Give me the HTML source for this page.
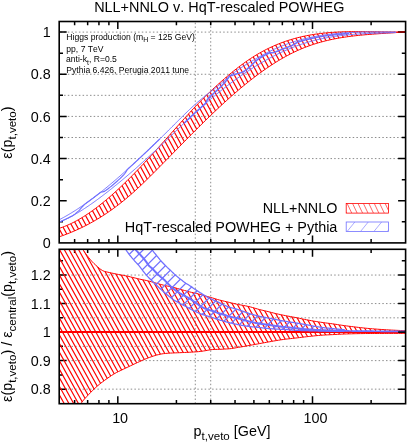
<!DOCTYPE html>
<html><head><meta charset="utf-8"><title>plot</title>
<style>html,body{margin:0;padding:0;background:#fff;overflow:hidden}body{width:407px;height:443px;position:relative;font-family:"Liberation Sans",sans-serif}</style>
</head><body>
<svg width="407" height="443" viewBox="0 0 407 443" style="position:absolute;left:0;top:0">
<defs>
<clipPath id="cu"><rect x="59.2" y="21.5" width="346.40000000000003" height="221.4"/></clipPath>
<clipPath id="cl"><rect x="59.2" y="249.3" width="346.40000000000003" height="154.39999999999998"/></clipPath>
<clipPath id="kru"><path d="M59.20,228.35 L60.94,227.76 L62.68,227.14 L64.42,226.47 L66.16,225.76 L67.91,225.01 L69.65,224.23 L71.39,223.41 L73.13,222.54 L74.87,221.65 L76.61,220.71 L78.35,219.74 L80.09,218.74 L81.84,217.70 L83.58,216.62 L85.32,215.52 L87.06,214.38 L88.80,213.21 L90.54,212.00 L92.28,210.77 L94.02,209.51 L95.77,208.22 L97.51,206.90 L99.25,205.55 L100.99,204.17 L102.73,202.77 L104.47,201.34 L106.21,199.88 L107.95,198.41 L109.69,196.90 L111.44,195.37 L113.18,193.82 L114.92,192.25 L116.66,190.65 L118.40,189.04 L120.14,187.40 L121.88,185.74 L123.62,184.07 L125.37,182.37 L127.11,180.66 L128.85,178.93 L130.59,177.18 L132.33,175.42 L134.07,173.64 L135.81,171.85 L137.55,170.04 L139.30,168.22 L141.04,166.39 L142.78,164.54 L144.52,162.68 L146.26,160.81 L148.00,158.93 L149.74,157.04 L151.48,155.14 L153.23,153.23 L154.97,151.32 L156.71,149.40 L158.45,147.47 L160.19,145.53 L161.93,143.60 L163.67,141.65 L165.41,139.71 L167.15,137.76 L168.90,135.81 L170.64,133.85 L172.38,131.90 L174.12,129.95 L175.86,128.00 L177.60,126.05 L179.34,124.10 L181.08,122.16 L182.83,120.22 L184.57,118.28 L186.31,116.36 L188.05,114.44 L189.79,112.53 L191.53,110.64 L193.27,108.76 L195.01,106.90 L196.76,105.07 L198.50,103.25 L200.24,101.46 L201.98,99.69 L203.72,97.95 L205.46,96.24 L207.20,94.54 L208.94,92.87 L210.68,91.22 L212.43,89.59 L214.17,87.97 L215.91,86.36 L217.65,84.77 L219.39,83.20 L221.13,81.64 L222.87,80.10 L224.61,78.57 L226.36,77.07 L228.10,75.59 L229.84,74.12 L231.58,72.68 L233.32,71.26 L235.06,69.86 L236.80,68.49 L238.54,67.14 L240.29,65.81 L242.03,64.52 L243.77,63.25 L245.51,62.00 L247.25,60.79 L248.99,59.61 L250.73,58.45 L252.47,57.33 L254.22,56.23 L255.96,55.17 L257.70,54.14 L259.44,53.13 L261.18,52.15 L262.92,51.21 L264.66,50.29 L266.40,49.39 L268.14,48.53 L269.89,47.69 L271.63,46.88 L273.37,46.10 L275.11,45.34 L276.85,44.60 L278.59,43.90 L280.33,43.21 L282.07,42.56 L283.82,41.92 L285.56,41.31 L287.30,40.73 L289.04,40.16 L290.78,39.62 L292.52,39.11 L294.26,38.61 L296.00,38.14 L297.75,37.68 L299.49,37.25 L301.23,36.84 L302.97,36.45 L304.71,36.08 L306.45,35.72 L308.19,35.39 L309.93,35.07 L311.67,34.77 L313.42,34.49 L315.16,34.22 L316.90,33.97 L318.64,33.74 L320.38,33.52 L322.12,33.32 L323.86,33.13 L325.60,32.95 L327.35,32.79 L329.09,32.64 L330.83,32.50 L332.57,32.38 L334.31,32.27 L336.05,32.16 L337.79,32.07 L339.53,31.99 L341.28,31.92 L343.02,31.85 L344.76,31.80 L346.50,31.76 L348.24,31.72 L349.98,31.69 L351.72,31.66 L353.46,31.65 L355.21,31.64 L356.95,31.63 L358.69,31.63 L360.43,31.64 L362.17,31.65 L363.91,31.66 L365.65,31.67 L367.39,31.69 L369.13,31.71 L370.88,31.74 L372.62,31.76 L374.36,31.79 L376.10,31.81 L377.84,31.84 L379.58,31.86 L381.32,31.89 L383.06,31.91 L384.81,31.93 L386.55,31.95 L388.29,31.97 L390.03,31.98 L391.77,31.99 L393.51,32.00 L395.25,32.00 L396.99,32.00 L398.74,31.99 L400.48,31.98 L402.22,31.95 L403.96,31.93 L405.70,31.89 L405.70,31.83 L403.96,31.98 L402.22,32.12 L400.48,32.25 L398.74,32.38 L396.99,32.51 L395.25,32.63 L393.51,32.75 L391.77,32.87 L390.03,32.98 L388.29,33.10 L386.55,33.21 L384.81,33.33 L383.06,33.44 L381.32,33.56 L379.58,33.67 L377.84,33.79 L376.10,33.91 L374.36,34.04 L372.62,34.17 L370.88,34.30 L369.13,34.43 L367.39,34.58 L365.65,34.72 L363.91,34.88 L362.17,35.04 L360.43,35.21 L358.69,35.38 L356.95,35.56 L355.21,35.76 L353.46,35.96 L351.72,36.17 L349.98,36.39 L348.24,36.62 L346.50,36.87 L344.76,37.12 L343.02,37.39 L341.28,37.67 L339.53,37.97 L337.79,38.28 L336.05,38.60 L334.31,38.94 L332.57,39.29 L330.83,39.66 L329.09,40.05 L327.35,40.45 L325.60,40.87 L323.86,41.31 L322.12,41.77 L320.38,42.24 L318.64,42.74 L316.90,43.26 L315.16,43.79 L313.42,44.35 L311.67,44.93 L309.93,45.54 L308.19,46.16 L306.45,46.81 L304.71,47.48 L302.97,48.18 L301.23,48.90 L299.49,49.65 L297.75,50.42 L296.00,51.22 L294.26,52.05 L292.52,52.90 L290.78,53.77 L289.04,54.67 L287.30,55.59 L285.56,56.54 L283.82,57.51 L282.07,58.51 L280.33,59.52 L278.59,60.56 L276.85,61.62 L275.11,62.71 L273.37,63.81 L271.63,64.94 L269.89,66.09 L268.14,67.26 L266.40,68.45 L264.66,69.66 L262.92,70.88 L261.18,72.13 L259.44,73.40 L257.70,74.69 L255.96,75.99 L254.22,77.32 L252.47,78.66 L250.73,80.02 L248.99,81.39 L247.25,82.79 L245.51,84.20 L243.77,85.62 L242.03,87.07 L240.29,88.52 L238.54,90.00 L236.80,91.49 L235.06,92.99 L233.32,94.51 L231.58,96.04 L229.84,97.59 L228.10,99.14 L226.36,100.72 L224.61,102.30 L222.87,103.90 L221.13,105.51 L219.39,107.13 L217.65,108.77 L215.91,110.41 L214.17,112.07 L212.43,113.73 L210.68,115.41 L208.94,117.09 L207.20,118.78 L205.46,120.48 L203.72,122.19 L201.98,123.91 L200.24,125.63 L198.50,127.36 L196.76,129.10 L195.01,130.84 L193.27,132.59 L191.53,134.34 L189.79,136.10 L188.05,137.86 L186.31,139.62 L184.57,141.39 L182.83,143.16 L181.08,144.93 L179.34,146.71 L177.60,148.48 L175.86,150.26 L174.12,152.04 L172.38,153.82 L170.64,155.59 L168.90,157.37 L167.15,159.15 L165.41,160.92 L163.67,162.69 L161.93,164.46 L160.19,166.23 L158.45,167.99 L156.71,169.76 L154.97,171.51 L153.23,173.26 L151.48,175.01 L149.74,176.74 L148.00,178.46 L146.26,180.18 L144.52,181.88 L142.78,183.56 L141.04,185.22 L139.30,186.87 L137.55,188.49 L135.81,190.10 L134.07,191.68 L132.33,193.23 L130.59,194.76 L128.85,196.26 L127.11,197.74 L125.37,199.20 L123.62,200.63 L121.88,202.03 L120.14,203.41 L118.40,204.77 L116.66,206.09 L114.92,207.40 L113.18,208.67 L111.44,209.93 L109.69,211.15 L107.95,212.35 L106.21,213.53 L104.47,214.68 L102.73,215.80 L100.99,216.91 L99.25,217.98 L97.51,219.04 L95.77,220.07 L94.02,221.08 L92.28,222.06 L90.54,223.02 L88.80,223.97 L87.06,224.88 L85.32,225.78 L83.58,226.66 L81.84,227.52 L80.09,228.35 L78.35,229.17 L76.61,229.96 L74.87,230.73 L73.13,231.49 L71.39,232.22 L69.65,232.93 L67.91,233.62 L66.16,234.30 L64.42,234.95 L62.68,235.58 L60.94,236.19 L59.20,236.79Z"/></clipPath>
<clipPath id="krl"><path d="M59.20,180.00 L60.94,184.78 L62.68,189.61 L64.42,194.49 L66.16,199.42 L67.90,204.38 L69.64,209.39 L71.38,214.43 L73.13,219.50 L74.87,224.61 L76.61,230.06 L78.35,235.93 L80.09,241.66 L81.83,246.69 L83.57,250.48 L85.31,253.09 L87.05,255.48 L88.79,257.75 L90.53,259.88 L92.27,261.80 L94.01,263.55 L95.75,265.18 L97.50,266.72 L99.24,268.24 L100.98,269.58 L102.72,270.69 L104.46,271.38 L106.20,271.82 L107.94,272.21 L109.68,272.61 L111.42,272.99 L113.16,273.36 L114.90,273.73 L116.64,274.09 L118.38,274.44 L120.12,274.78 L121.87,275.10 L123.61,275.42 L125.35,275.75 L127.09,276.12 L128.83,276.51 L130.57,276.92 L132.31,277.34 L134.05,277.75 L135.79,278.19 L137.53,278.62 L139.27,279.04 L141.01,279.41 L142.75,279.76 L144.49,280.10 L146.24,280.48 L147.98,280.90 L149.72,281.34 L151.46,281.81 L153.20,282.29 L154.94,282.80 L156.68,283.31 L158.42,283.80 L160.16,284.29 L161.90,284.76 L163.64,285.21 L165.38,285.62 L167.12,286.01 L168.86,286.39 L170.61,286.76 L172.35,287.13 L174.09,287.55 L175.83,288.03 L177.57,288.54 L179.31,289.06 L181.05,289.54 L182.79,290.01 L184.53,290.48 L186.27,290.96 L188.01,291.46 L189.75,291.94 L191.49,292.35 L193.23,292.71 L194.97,293.08 L196.72,293.50 L198.46,293.97 L200.20,294.45 L201.94,294.94 L203.68,295.43 L205.42,295.94 L207.16,296.44 L208.90,296.94 L210.64,297.43 L212.38,297.93 L214.12,298.44 L215.86,298.98 L217.60,299.52 L219.34,299.99 L221.09,300.43 L222.83,300.86 L224.57,301.29 L226.31,301.70 L228.05,302.11 L229.79,302.52 L231.53,302.94 L233.27,303.37 L235.01,303.78 L236.75,304.16 L238.49,304.52 L240.23,304.85 L241.97,305.18 L243.71,305.50 L245.46,305.83 L247.20,306.19 L248.94,306.57 L250.68,307.00 L252.42,307.48 L254.16,307.99 L255.90,308.52 L257.64,309.03 L259.38,309.50 L261.12,309.94 L262.86,310.35 L264.60,310.76 L266.34,311.17 L268.08,311.60 L269.83,312.04 L271.57,312.49 L273.31,312.94 L275.05,313.38 L276.79,313.80 L278.53,314.20 L280.27,314.58 L282.01,314.94 L283.75,315.29 L285.49,315.64 L287.23,315.98 L288.97,316.31 L290.71,316.62 L292.45,316.94 L294.19,317.25 L295.94,317.59 L297.68,317.94 L299.42,318.31 L301.16,318.68 L302.90,319.05 L304.64,319.41 L306.38,319.75 L308.12,320.09 L309.86,320.42 L311.60,320.74 L313.34,321.05 L315.08,321.35 L316.82,321.63 L318.56,321.90 L320.31,322.16 L322.05,322.42 L323.79,322.67 L325.53,322.91 L327.27,323.14 L329.01,323.36 L330.75,323.59 L332.49,323.83 L334.23,324.08 L335.97,324.35 L337.71,324.63 L339.45,324.90 L341.19,325.17 L342.93,325.42 L344.68,325.66 L346.42,325.89 L348.16,326.11 L349.90,326.34 L351.64,326.56 L353.38,326.77 L355.12,326.99 L356.86,327.20 L358.60,327.41 L360.34,327.60 L362.08,327.80 L363.82,327.99 L365.56,328.17 L367.30,328.35 L369.05,328.51 L370.79,328.67 L372.53,328.81 L374.27,328.95 L376.01,329.09 L377.75,329.22 L379.49,329.34 L381.23,329.46 L382.97,329.58 L384.71,329.68 L386.45,329.79 L388.19,329.88 L389.93,329.98 L391.67,330.08 L393.42,330.17 L395.16,330.26 L396.90,330.34 L398.64,330.42 L400.38,330.50 L402.12,330.57 L403.86,330.64 L405.60,330.70 L405.60,333.40 L403.86,333.40 L402.12,333.40 L400.38,333.40 L398.64,333.40 L396.90,333.41 L395.16,333.41 L393.42,333.41 L391.67,333.42 L389.93,333.42 L388.19,333.43 L386.45,333.43 L384.71,333.44 L382.97,333.44 L381.23,333.45 L379.49,333.46 L377.75,333.46 L376.01,333.47 L374.27,333.48 L372.53,333.49 L370.79,333.50 L369.05,333.51 L367.30,333.52 L365.56,333.53 L363.82,333.55 L362.08,333.58 L360.34,333.60 L358.60,333.63 L356.86,333.66 L355.12,333.70 L353.38,333.74 L351.64,333.79 L349.90,333.84 L348.16,333.89 L346.42,333.94 L344.68,334.00 L342.93,334.07 L341.19,334.14 L339.45,334.23 L337.71,334.33 L335.97,334.43 L334.23,334.53 L332.49,334.63 L330.75,334.71 L329.01,334.79 L327.27,334.88 L325.53,334.97 L323.79,335.07 L322.05,335.19 L320.31,335.33 L318.56,335.48 L316.82,335.64 L315.08,335.81 L313.34,335.99 L311.60,336.17 L309.86,336.36 L308.12,336.55 L306.38,336.75 L304.64,336.95 L302.90,337.16 L301.16,337.37 L299.42,337.58 L297.68,337.80 L295.94,338.01 L294.19,338.21 L292.45,338.41 L290.71,338.60 L288.97,338.79 L287.23,338.99 L285.49,339.20 L283.75,339.43 L282.01,339.67 L280.27,339.93 L278.53,340.21 L276.79,340.50 L275.05,340.79 L273.31,341.09 L271.57,341.40 L269.83,341.72 L268.08,342.04 L266.34,342.36 L264.60,342.67 L262.86,342.99 L261.12,343.31 L259.38,343.62 L257.64,343.94 L255.90,344.26 L254.16,344.57 L252.42,344.88 L250.68,345.19 L248.94,345.50 L247.20,345.83 L245.46,346.15 L243.71,346.47 L241.97,346.78 L240.23,347.07 L238.49,347.35 L236.75,347.64 L235.01,347.96 L233.27,348.27 L231.53,348.54 L229.79,348.72 L228.05,348.86 L226.31,348.98 L224.57,349.08 L222.83,349.18 L221.09,349.26 L219.34,349.32 L217.60,349.37 L215.86,349.41 L214.12,349.46 L212.38,349.55 L210.64,349.76 L208.90,350.04 L207.16,350.37 L205.42,350.69 L203.68,350.96 L201.94,351.22 L200.20,351.47 L198.46,351.65 L196.72,351.80 L194.97,351.92 L193.23,352.04 L191.49,352.14 L189.75,352.24 L188.01,352.33 L186.27,352.41 L184.53,352.49 L182.79,352.56 L181.05,352.63 L179.31,352.71 L177.57,352.78 L175.83,352.85 L174.09,352.92 L172.35,353.00 L170.61,353.09 L168.86,353.20 L167.12,353.32 L165.38,353.46 L163.64,353.64 L161.90,353.90 L160.16,354.24 L158.42,354.63 L156.68,355.06 L154.94,355.57 L153.20,356.13 L151.46,356.72 L149.72,357.33 L147.98,357.98 L146.24,358.67 L144.49,359.39 L142.75,360.15 L141.01,360.94 L139.27,361.73 L137.53,362.52 L135.79,363.32 L134.05,364.12 L132.31,364.94 L130.57,365.77 L128.83,366.61 L127.09,367.43 L125.35,368.26 L123.61,369.09 L121.87,369.92 L120.12,370.75 L118.38,371.58 L116.64,372.45 L114.90,373.41 L113.16,374.47 L111.42,375.59 L109.68,376.75 L107.94,377.94 L106.20,379.18 L104.46,380.46 L102.72,381.75 L100.98,383.06 L99.24,384.43 L97.50,385.88 L95.75,387.44 L94.01,389.11 L92.27,390.83 L90.53,392.57 L88.79,394.36 L87.05,396.22 L85.31,398.15 L83.57,400.00 L81.83,402.26 L80.09,405.96 L78.35,412.08 L76.61,419.12 L74.87,425.43 L73.13,430.93 L71.38,436.33 L69.64,441.61 L67.90,446.77 L66.16,451.77 L64.42,456.62 L62.68,461.28 L60.94,465.75 L59.20,470.00Z" clip-path="url(#cl)"/></clipPath>
<clipPath id="kbl"><path d="M120.00,170.00 L121.44,174.53 L122.87,178.97 L124.31,183.32 L125.74,187.58 L127.18,191.75 L128.61,195.83 L130.05,199.81 L131.48,203.71 L132.92,207.52 L134.35,211.24 L135.79,214.86 L137.22,218.40 L138.66,221.85 L140.09,225.21 L141.53,228.53 L142.96,231.80 L144.40,235.01 L145.83,238.11 L147.27,241.08 L148.70,243.90 L150.14,246.52 L151.57,248.93 L153.01,251.06 L154.44,252.90 L155.88,254.62 L157.31,256.40 L158.75,258.20 L160.18,259.96 L161.62,261.59 L163.06,263.11 L164.49,264.58 L165.93,266.04 L167.36,267.49 L168.80,268.78 L170.23,270.01 L171.67,271.45 L173.10,272.93 L174.54,274.28 L175.97,275.55 L177.41,276.76 L178.84,277.93 L180.28,279.08 L181.71,280.20 L183.15,281.28 L184.58,282.32 L186.02,283.31 L187.45,284.22 L188.89,285.09 L190.32,286.01 L191.76,287.00 L193.19,288.02 L194.63,289.03 L196.06,290.01 L197.50,290.96 L198.93,291.89 L200.37,292.80 L201.81,293.70 L203.24,294.61 L204.68,295.52 L206.11,296.40 L207.55,297.22 L208.98,297.96 L210.42,298.66 L211.85,299.33 L213.29,299.98 L214.72,300.60 L216.16,301.22 L217.59,301.86 L219.03,302.54 L220.46,303.27 L221.90,303.99 L223.33,304.69 L224.77,305.33 L226.20,305.96 L227.64,306.56 L229.07,307.09 L230.51,307.54 L231.94,307.91 L233.38,308.24 L234.81,308.58 L236.25,308.97 L237.68,309.42 L239.12,309.90 L240.55,310.41 L241.99,310.94 L243.43,311.48 L244.86,312.01 L246.30,312.53 L247.73,313.03 L249.17,313.50 L250.60,313.93 L252.04,314.36 L253.47,314.77 L254.91,315.17 L256.34,315.55 L257.78,315.91 L259.21,316.25 L260.65,316.56 L262.08,316.85 L263.52,317.13 L264.95,317.40 L266.39,317.67 L267.82,317.95 L269.26,318.23 L270.69,318.52 L272.13,318.80 L273.56,319.09 L275.00,319.37 L276.43,319.65 L277.87,319.93 L279.30,320.21 L280.74,320.49 L282.17,320.76 L283.61,321.03 L285.05,321.29 L286.48,321.53 L287.92,321.75 L289.35,321.96 L290.79,322.16 L292.22,322.35 L293.66,322.55 L295.09,322.76 L296.53,322.98 L297.96,323.22 L299.40,323.47 L300.83,323.72 L302.27,323.98 L303.70,324.25 L305.14,324.51 L306.57,324.77 L308.01,325.05 L309.44,325.32 L310.88,325.60 L312.31,325.87 L313.75,326.12 L315.18,326.37 L316.62,326.61 L318.05,326.84 L319.49,327.07 L320.92,327.28 L322.36,327.48 L323.79,327.66 L325.23,327.83 L326.67,327.98 L328.10,328.13 L329.54,328.27 L330.97,328.41 L332.41,328.54 L333.84,328.68 L335.28,328.83 L336.71,328.97 L338.15,329.11 L339.58,329.25 L341.02,329.38 L342.45,329.51 L343.89,329.62 L345.32,329.72 L346.76,329.82 L348.19,329.91 L349.63,330.00 L351.06,330.08 L352.50,330.16 L353.93,330.24 L355.37,330.31 L356.80,330.37 L358.24,330.43 L359.67,330.49 L361.11,330.54 L362.54,330.58 L363.98,330.63 L365.42,330.67 L366.85,330.71 L368.29,330.75 L369.72,330.79 L371.16,330.82 L372.59,330.86 L374.03,330.89 L375.46,330.92 L376.90,330.95 L378.33,330.97 L379.77,331.00 L381.20,331.02 L382.64,331.04 L384.07,331.06 L385.51,331.09 L386.94,331.11 L388.38,331.13 L389.81,331.15 L391.25,331.17 L392.68,331.19 L394.12,331.20 L395.55,331.22 L396.99,331.24 L398.42,331.25 L399.86,331.26 L401.29,331.27 L402.73,331.28 L404.16,331.29 L405.60,331.30 L405.60,331.60 L404.05,331.60 L402.50,331.60 L400.95,331.60 L399.40,331.60 L397.85,331.60 L396.30,331.60 L394.74,331.60 L393.19,331.60 L391.64,331.60 L390.09,331.60 L388.54,331.60 L386.99,331.60 L385.44,331.60 L383.89,331.60 L382.34,331.60 L380.79,331.60 L379.24,331.60 L377.69,331.60 L376.14,331.60 L374.58,331.60 L373.03,331.60 L371.48,331.60 L369.93,331.60 L368.38,331.60 L366.83,331.60 L365.28,331.59 L363.73,331.59 L362.18,331.58 L360.63,331.57 L359.08,331.56 L357.53,331.55 L355.98,331.54 L354.43,331.53 L352.87,331.52 L351.32,331.51 L349.77,331.49 L348.22,331.48 L346.67,331.46 L345.12,331.44 L343.57,331.43 L342.02,331.41 L340.47,331.39 L338.92,331.37 L337.37,331.35 L335.82,331.33 L334.27,331.32 L332.71,331.30 L331.16,331.28 L329.61,331.25 L328.06,331.23 L326.51,331.20 L324.96,331.17 L323.41,331.14 L321.86,331.10 L320.31,331.07 L318.76,331.03 L317.21,330.99 L315.66,330.95 L314.11,330.91 L312.55,330.87 L311.00,330.83 L309.45,330.78 L307.90,330.74 L306.35,330.70 L304.80,330.65 L303.25,330.60 L301.70,330.54 L300.15,330.48 L298.60,330.42 L297.05,330.35 L295.50,330.27 L293.95,330.18 L292.39,330.06 L290.84,329.94 L289.29,329.82 L287.74,329.70 L286.19,329.59 L284.64,329.50 L283.09,329.42 L281.54,329.34 L279.99,329.26 L278.44,329.17 L276.89,329.08 L275.34,328.99 L273.79,328.90 L272.24,328.80 L270.68,328.70 L269.13,328.58 L267.58,328.46 L266.03,328.31 L264.48,328.14 L262.93,327.96 L261.38,327.77 L259.83,327.59 L258.28,327.42 L256.73,327.27 L255.18,327.12 L253.63,326.96 L252.08,326.80 L250.52,326.63 L248.97,326.43 L247.42,326.22 L245.87,325.98 L244.32,325.74 L242.77,325.48 L241.22,325.20 L239.67,324.92 L238.12,324.62 L236.57,324.31 L235.02,323.99 L233.47,323.65 L231.92,323.31 L230.36,322.96 L228.81,322.58 L227.26,322.18 L225.71,321.75 L224.16,321.31 L222.61,320.85 L221.06,320.38 L219.51,319.90 L217.96,319.42 L216.41,318.91 L214.86,318.37 L213.31,317.83 L211.76,317.32 L210.21,316.85 L208.65,316.41 L207.10,315.97 L205.55,315.50 L204.00,315.00 L202.45,314.45 L200.90,313.88 L199.35,313.27 L197.80,312.63 L196.25,311.96 L194.70,311.26 L193.15,310.50 L191.60,309.68 L190.05,308.83 L188.49,307.96 L186.94,307.11 L185.39,306.28 L183.84,305.48 L182.29,304.68 L180.74,303.86 L179.19,303.02 L177.64,302.17 L176.09,301.30 L174.54,300.37 L172.99,299.35 L171.44,298.21 L169.89,297.00 L168.33,295.75 L166.78,294.50 L165.23,293.21 L163.68,291.89 L162.13,290.52 L160.58,289.08 L159.03,287.58 L157.48,286.09 L155.93,284.63 L154.38,283.18 L152.83,281.70 L151.28,280.18 L149.73,278.63 L148.17,277.03 L146.62,275.33 L145.07,273.55 L143.52,271.65 L141.97,269.55 L140.42,267.42 L138.87,265.52 L137.32,263.83 L135.77,262.20 L134.22,260.49 L132.67,258.66 L131.12,256.81 L129.57,254.88 L128.02,252.80 L126.46,250.48 L124.91,247.85 L123.36,244.87 L121.81,241.59 L120.26,238.06 L118.71,234.34 L117.16,230.49 L115.61,226.56 L114.06,222.57 L112.51,218.46 L110.96,214.21 L109.41,209.84 L107.86,205.33 L106.30,200.68 L104.75,195.90 L103.20,190.99 L101.65,185.95 L100.10,180.77 L98.55,175.45 L97.00,170.00Z" clip-path="url(#cl)"/></clipPath>
<clipPath id="kbu"><path d="M59.20,219.60 L60.94,218.74 L62.68,217.90 L64.42,217.08 L66.16,216.26 L67.91,215.41 L69.65,214.51 L71.39,213.54 L73.13,212.47 L74.87,211.29 L76.61,210.04 L78.35,208.74 L80.09,207.43 L81.84,206.08 L83.58,204.68 L85.32,203.27 L87.06,201.90 L88.80,200.62 L90.54,199.43 L92.28,198.28 L94.02,197.16 L95.77,196.03 L97.51,194.85 L99.25,193.61 L100.99,192.28 L102.73,190.85 L104.47,189.35 L106.21,187.82 L107.95,186.26 L109.69,184.71 L111.44,183.18 L113.18,181.69 L114.92,180.21 L116.66,178.74 L118.40,177.29 L120.14,175.89 L121.88,174.49 L123.62,173.05 L125.37,171.53 L127.11,169.96 L128.85,168.35 L130.59,166.72 L132.33,165.07 L134.07,163.42 L135.81,161.78 L137.55,160.13 L139.30,158.48 L141.04,156.82 L142.78,155.17 L144.52,153.51 L146.26,151.86 L148.00,150.21 L149.74,148.57 L151.48,146.95 L153.23,145.33 L154.97,143.76 L156.71,142.19 L158.45,140.59 L160.19,138.91 L161.93,137.12 L163.67,135.25 L165.41,133.40 L167.15,131.62 L168.90,129.86 L170.64,128.14 L172.38,126.44 L174.12,124.82 L175.86,123.20 L177.60,121.49 L179.34,119.66 L181.08,117.77 L182.83,115.91 L184.57,114.14 L186.31,112.47 L188.05,110.84 L189.79,109.20 L191.53,107.56 L193.27,105.93 L195.01,104.27 L196.76,102.50 L198.50,100.69 L200.24,99.32 L201.98,98.25 L203.72,97.31 L205.46,96.39 L207.20,95.35 L208.94,94.06 L210.68,92.51 L212.43,90.85 L214.17,89.27 L215.91,87.76 L217.65,86.29 L219.39,84.84 L221.13,83.44 L222.87,82.10 L224.61,80.72 L226.36,79.20 L228.10,77.46 L229.84,75.65 L231.58,73.97 L233.32,72.51 L235.06,71.18 L236.80,69.94 L238.54,68.78 L240.29,67.70 L242.03,66.69 L243.77,65.72 L245.51,64.81 L247.25,63.94 L248.99,63.07 L250.73,62.14 L252.47,61.17 L254.22,60.18 L255.96,59.20 L257.70,58.20 L259.44,57.18 L261.18,56.15 L262.92,55.14 L264.66,54.15 L266.40,53.21 L268.14,52.33 L269.89,51.50 L271.63,50.72 L273.37,49.96 L275.11,49.22 L276.85,48.48 L278.59,47.74 L280.33,46.97 L282.07,46.19 L283.82,45.39 L285.56,44.60 L287.30,43.83 L289.04,43.11 L290.78,42.45 L292.52,41.80 L294.26,41.19 L296.00,40.61 L297.75,40.09 L299.49,39.63 L301.23,39.23 L302.97,38.88 L304.71,38.55 L306.45,38.24 L308.19,37.92 L309.93,37.60 L311.67,37.28 L313.42,36.97 L315.16,36.67 L316.90,36.38 L318.64,36.10 L320.38,35.80 L322.12,35.50 L323.86,35.20 L325.60,34.91 L327.35,34.62 L329.09,34.35 L330.83,34.10 L332.57,33.87 L334.31,33.67 L336.05,33.51 L337.79,33.38 L339.53,33.25 L341.28,33.14 L343.02,33.03 L344.76,32.93 L346.50,32.84 L348.24,32.76 L349.98,32.68 L351.72,32.61 L353.46,32.55 L355.21,32.49 L356.95,32.44 L358.69,32.39 L360.43,32.34 L362.17,32.29 L363.91,32.25 L365.65,32.20 L367.39,32.16 L369.13,32.12 L370.88,32.09 L372.62,32.06 L374.36,32.04 L376.10,32.02 L377.84,32.01 L379.58,32.00 L381.32,32.00 L383.06,32.00 L384.81,32.00 L386.55,32.00 L388.29,32.00 L390.03,32.01 L391.77,32.01 L393.51,32.01 L395.25,32.02 L396.99,32.03 L398.74,32.04 L400.48,32.05 L402.22,32.06 L403.96,32.08 L405.70,32.10 L405.70,32.10 L403.96,32.14 L402.22,32.19 L400.48,32.24 L398.74,32.29 L396.99,32.35 L395.25,32.41 L393.51,32.47 L391.77,32.53 L390.03,32.59 L388.29,32.66 L386.55,32.73 L384.81,32.80 L383.06,32.87 L381.32,32.94 L379.58,33.02 L377.84,33.10 L376.10,33.17 L374.36,33.26 L372.62,33.34 L370.88,33.43 L369.13,33.52 L367.39,33.62 L365.65,33.72 L363.91,33.82 L362.17,33.92 L360.43,34.03 L358.69,34.15 L356.95,34.26 L355.21,34.39 L353.46,34.51 L351.72,34.64 L349.98,34.78 L348.24,34.93 L346.50,35.08 L344.76,35.24 L343.02,35.42 L341.28,35.60 L339.53,35.79 L337.79,36.00 L336.05,36.22 L334.31,36.47 L332.57,36.77 L330.83,37.09 L329.09,37.45 L327.35,37.82 L325.60,38.20 L323.86,38.59 L322.12,38.97 L320.38,39.33 L318.64,39.68 L316.90,39.99 L315.16,40.28 L313.42,40.55 L311.67,40.83 L309.93,41.15 L308.19,41.53 L306.45,42.01 L304.71,42.59 L302.97,43.23 L301.23,43.91 L299.49,44.59 L297.75,45.25 L296.00,45.93 L294.26,46.62 L292.52,47.34 L290.78,48.10 L289.04,48.89 L287.30,49.75 L285.56,50.65 L283.82,51.58 L282.07,52.51 L280.33,53.42 L278.59,54.31 L276.85,55.18 L275.11,56.04 L273.37,56.91 L271.63,57.77 L269.89,58.64 L268.14,59.52 L266.40,60.41 L264.66,61.30 L262.92,62.19 L261.18,63.08 L259.44,64.00 L257.70,64.95 L255.96,65.93 L254.22,66.96 L252.47,68.04 L250.73,69.15 L248.99,70.25 L247.25,71.36 L245.51,72.49 L243.77,73.62 L242.03,74.76 L240.29,75.90 L238.54,77.07 L236.80,78.23 L235.06,79.38 L233.32,80.59 L231.58,81.95 L229.84,83.62 L228.10,85.43 L226.36,87.13 L224.61,88.55 L222.87,89.78 L221.13,90.96 L219.39,92.20 L217.65,93.46 L215.91,94.75 L214.17,96.09 L212.43,97.51 L210.68,98.99 L208.94,100.50 L207.20,101.97 L205.46,103.40 L203.72,104.85 L201.98,106.35 L200.24,107.97 L198.50,109.70 L196.76,111.42 L195.01,113.03 L193.27,114.52 L191.53,115.97 L189.79,117.50 L188.05,119.20 L186.31,120.98 L184.57,122.75 L182.83,124.40 L181.08,125.99 L179.34,127.56 L177.60,129.19 L175.86,130.89 L174.12,132.64 L172.38,134.41 L170.64,136.21 L168.90,138.07 L167.15,139.92 L165.41,141.69 L163.67,143.41 L161.93,145.08 L160.19,146.64 L158.45,148.03 L156.71,149.29 L154.97,150.57 L153.23,152.02 L151.48,153.71 L149.74,155.52 L148.00,157.30 L146.26,158.98 L144.52,160.63 L142.78,162.27 L141.04,163.93 L139.30,165.64 L137.55,167.31 L135.81,168.86 L134.07,170.24 L132.33,171.53 L130.59,172.81 L128.85,174.17 L127.11,175.58 L125.37,177.00 L123.62,178.45 L121.88,179.92 L120.14,181.41 L118.40,182.89 L116.66,184.30 L114.92,185.68 L113.18,187.06 L111.44,188.46 L109.69,189.87 L107.95,191.30 L106.21,192.76 L104.47,194.30 L102.73,195.95 L100.99,197.53 L99.25,198.91 L97.51,200.11 L95.77,201.21 L94.02,202.25 L92.28,203.26 L90.54,204.29 L88.80,205.37 L87.06,206.55 L85.32,207.80 L83.58,209.07 L81.84,210.28 L80.09,211.42 L78.35,212.55 L76.61,213.64 L74.87,214.69 L73.13,215.69 L71.39,216.61 L69.65,217.48 L67.91,218.32 L66.16,219.11 L64.42,219.87 L62.68,220.61 L60.94,221.32 L59.20,222.00Z"/></clipPath>
<clipPath id="klr"><rect x="346.2" y="203.4" width="42.2" height="9.7"/></clipPath>
<clipPath id="klb"><rect x="346.2" y="222" width="42.3" height="9.5"/></clipPath>
</defs>
<rect width="407" height="443" fill="#fff"/>
<path d="M59.2,158.58H405.6M59.2,137.50H405.6M59.2,116.42H405.6M59.2,95.34H405.6M59.2,74.26H405.6M59.2,32.10H405.6" stroke="#000" stroke-opacity="0.5" stroke-width="0.9" stroke-dasharray="1.5,2.2" stroke-dashoffset="-1.2" fill="none"/>
<path d="M195.29,21.5V242.9M210.71,21.5V242.9" stroke="#000" stroke-opacity="0.5" stroke-width="0.9" stroke-dasharray="1.5,2.2" stroke-dashoffset="-1.2" fill="none"/>
<path d="M59.2,275.05H405.6M59.2,303.57H405.6M59.2,317.84H405.6M59.2,346.36H405.6M59.2,360.62H405.6M59.2,389.15H405.6M195.29,249.3V403.7M210.71,249.3V403.7" stroke="#000" stroke-opacity="0.5" stroke-width="0.9" stroke-dasharray="1.5,2.2" stroke-dashoffset="-1.2" fill="none"/>
<path d="M74.62,242.9v-3.8M74.62,21.5v3.8M74.62,403.7v-3.8M74.62,249.3v3.8M87.65,242.9v-3.8M87.65,21.5v3.8M87.65,403.7v-3.8M87.65,249.3v3.8M98.94,242.9v-3.8M98.94,21.5v3.8M98.94,403.7v-3.8M98.94,249.3v3.8M108.90,242.9v-3.8M108.90,21.5v3.8M108.90,403.7v-3.8M108.90,249.3v3.8M176.42,242.9v-3.8M176.42,21.5v3.8M176.42,403.7v-3.8M176.42,249.3v3.8M210.71,242.9v-3.8M210.71,21.5v3.8M210.71,403.7v-3.8M210.71,249.3v3.8M235.03,242.9v-3.8M235.03,21.5v3.8M235.03,403.7v-3.8M235.03,249.3v3.8M253.90,242.9v-3.8M253.90,21.5v3.8M253.90,403.7v-3.8M253.90,249.3v3.8M269.32,242.9v-3.8M269.32,21.5v3.8M269.32,403.7v-3.8M269.32,249.3v3.8M282.35,242.9v-3.8M282.35,21.5v3.8M282.35,403.7v-3.8M282.35,249.3v3.8M293.64,242.9v-3.8M293.64,21.5v3.8M293.64,403.7v-3.8M293.64,249.3v3.8M303.60,242.9v-3.8M303.60,21.5v3.8M303.60,403.7v-3.8M303.60,249.3v3.8M371.12,242.9v-3.8M371.12,21.5v3.8M371.12,403.7v-3.8M371.12,249.3v3.8M117.81,242.9v-7.5M117.81,21.5v7.5M117.81,403.7v-7.5M117.81,249.3v7.5M312.51,242.9v-7.5M312.51,21.5v7.5M312.51,403.7v-7.5M312.51,249.3v7.5M59.2,221.82h3.8M405.6,221.82h-3.8M59.2,200.74h7.5M405.6,200.74h-7.5M59.2,179.66h3.8M405.6,179.66h-3.8M59.2,158.58h7.5M405.6,158.58h-7.5M59.2,137.50h3.8M405.6,137.50h-3.8M59.2,116.42h7.5M405.6,116.42h-7.5M59.2,95.34h3.8M405.6,95.34h-3.8M59.2,74.26h7.5M405.6,74.26h-7.5M59.2,53.18h3.8M405.6,53.18h-3.8M59.2,32.10h7.5M405.6,32.10h-7.5M59.2,389.15h7.5M405.6,389.15h-7.5M59.2,374.89h3.8M405.6,374.89h-3.8M59.2,360.62h7.5M405.6,360.62h-7.5M59.2,346.36h3.8M405.6,346.36h-3.8M59.2,332.10h7.5M405.6,332.10h-7.5M59.2,317.84h3.8M405.6,317.84h-3.8M59.2,303.57h7.5M405.6,303.57h-7.5M59.2,289.31h3.8M405.6,289.31h-3.8M59.2,275.05h7.5M405.6,275.05h-7.5M59.2,260.79h3.8M405.6,260.79h-3.8" stroke="#000" stroke-width="1.5" fill="none"/>
<g clip-path="url(#cu)">
<path clip-path="url(#kru)" d="M-68.50,21.50L52.48,242.90M-63.70,21.50L57.28,242.90M-58.90,21.50L62.08,242.90M-54.10,21.50L66.88,242.90M-49.30,21.50L71.68,242.90M-44.50,21.50L76.48,242.90M-39.70,21.50L81.28,242.90M-34.90,21.50L86.08,242.90M-30.10,21.50L90.88,242.90M-25.30,21.50L95.68,242.90M-20.50,21.50L100.48,242.90M-15.70,21.50L105.28,242.90M-10.90,21.50L110.08,242.90M-6.10,21.50L114.88,242.90M-1.30,21.50L119.68,242.90M3.50,21.50L124.48,242.90M8.30,21.50L129.28,242.90M13.10,21.50L134.08,242.90M17.90,21.50L138.88,242.90M22.70,21.50L143.68,242.90M27.50,21.50L148.48,242.90M32.30,21.50L153.28,242.90M37.10,21.50L158.08,242.90M41.90,21.50L162.88,242.90M46.70,21.50L167.68,242.90M51.50,21.50L172.48,242.90M56.30,21.50L177.28,242.90M61.10,21.50L182.08,242.90M65.90,21.50L186.88,242.90M70.70,21.50L191.68,242.90M75.50,21.50L196.48,242.90M80.30,21.50L201.28,242.90M85.10,21.50L206.08,242.90M89.90,21.50L210.88,242.90M94.70,21.50L215.68,242.90M99.50,21.50L220.48,242.90M104.30,21.50L225.28,242.90M109.10,21.50L230.08,242.90M113.90,21.50L234.88,242.90M118.70,21.50L239.68,242.90M123.50,21.50L244.48,242.90M128.30,21.50L249.28,242.90M133.10,21.50L254.08,242.90M137.90,21.50L258.88,242.90M142.70,21.50L263.68,242.90M147.50,21.50L268.48,242.90M152.30,21.50L273.28,242.90M157.10,21.50L278.08,242.90M161.90,21.50L282.88,242.90M166.70,21.50L287.68,242.90M171.50,21.50L292.48,242.90M176.30,21.50L297.28,242.90M181.10,21.50L302.08,242.90M185.90,21.50L306.88,242.90M190.70,21.50L311.68,242.90M195.50,21.50L316.48,242.90M200.30,21.50L321.28,242.90M205.10,21.50L326.08,242.90M209.90,21.50L330.88,242.90M214.70,21.50L335.68,242.90M219.50,21.50L340.48,242.90M224.30,21.50L345.28,242.90M229.10,21.50L350.08,242.90M233.90,21.50L354.88,242.90M238.70,21.50L359.68,242.90M243.50,21.50L364.48,242.90M248.30,21.50L369.28,242.90M253.10,21.50L374.08,242.90M257.90,21.50L378.88,242.90M262.70,21.50L383.68,242.90M267.50,21.50L388.48,242.90M272.30,21.50L393.28,242.90M277.10,21.50L398.08,242.90M281.90,21.50L402.88,242.90M286.70,21.50L407.68,242.90M291.50,21.50L412.48,242.90M296.30,21.50L417.28,242.90M301.10,21.50L422.08,242.90M305.90,21.50L426.88,242.90M310.70,21.50L431.68,242.90M315.50,21.50L436.48,242.90M320.30,21.50L441.28,242.90M325.10,21.50L446.08,242.90M329.90,21.50L450.88,242.90M334.70,21.50L455.68,242.90M339.50,21.50L460.48,242.90M344.30,21.50L465.28,242.90M349.10,21.50L470.08,242.90M353.90,21.50L474.88,242.90M358.70,21.50L479.68,242.90M363.50,21.50L484.48,242.90M368.30,21.50L489.28,242.90M373.10,21.50L494.08,242.90M377.90,21.50L498.88,242.90M382.70,21.50L503.68,242.90M387.50,21.50L508.48,242.90M392.30,21.50L513.28,242.90M397.10,21.50L518.08,242.90M401.90,21.50L522.88,242.90M406.70,21.50L527.68,242.90M411.50,21.50L532.48,242.90" stroke="#ff0000" stroke-width="1.2" fill="none"/>
<path d="M59.20,228.35 L60.94,227.76 L62.68,227.14 L64.42,226.47 L66.16,225.76 L67.91,225.01 L69.65,224.23 L71.39,223.41 L73.13,222.54 L74.87,221.65 L76.61,220.71 L78.35,219.74 L80.09,218.74 L81.84,217.70 L83.58,216.62 L85.32,215.52 L87.06,214.38 L88.80,213.21 L90.54,212.00 L92.28,210.77 L94.02,209.51 L95.77,208.22 L97.51,206.90 L99.25,205.55 L100.99,204.17 L102.73,202.77 L104.47,201.34 L106.21,199.88 L107.95,198.41 L109.69,196.90 L111.44,195.37 L113.18,193.82 L114.92,192.25 L116.66,190.65 L118.40,189.04 L120.14,187.40 L121.88,185.74 L123.62,184.07 L125.37,182.37 L127.11,180.66 L128.85,178.93 L130.59,177.18 L132.33,175.42 L134.07,173.64 L135.81,171.85 L137.55,170.04 L139.30,168.22 L141.04,166.39 L142.78,164.54 L144.52,162.68 L146.26,160.81 L148.00,158.93 L149.74,157.04 L151.48,155.14 L153.23,153.23 L154.97,151.32 L156.71,149.40 L158.45,147.47 L160.19,145.53 L161.93,143.60 L163.67,141.65 L165.41,139.71 L167.15,137.76 L168.90,135.81 L170.64,133.85 L172.38,131.90 L174.12,129.95 L175.86,128.00 L177.60,126.05 L179.34,124.10 L181.08,122.16 L182.83,120.22 L184.57,118.28 L186.31,116.36 L188.05,114.44 L189.79,112.53 L191.53,110.64 L193.27,108.76 L195.01,106.90 L196.76,105.07 L198.50,103.25 L200.24,101.46 L201.98,99.69 L203.72,97.95 L205.46,96.24 L207.20,94.54 L208.94,92.87 L210.68,91.22 L212.43,89.59 L214.17,87.97 L215.91,86.36 L217.65,84.77 L219.39,83.20 L221.13,81.64 L222.87,80.10 L224.61,78.57 L226.36,77.07 L228.10,75.59 L229.84,74.12 L231.58,72.68 L233.32,71.26 L235.06,69.86 L236.80,68.49 L238.54,67.14 L240.29,65.81 L242.03,64.52 L243.77,63.25 L245.51,62.00 L247.25,60.79 L248.99,59.61 L250.73,58.45 L252.47,57.33 L254.22,56.23 L255.96,55.17 L257.70,54.14 L259.44,53.13 L261.18,52.15 L262.92,51.21 L264.66,50.29 L266.40,49.39 L268.14,48.53 L269.89,47.69 L271.63,46.88 L273.37,46.10 L275.11,45.34 L276.85,44.60 L278.59,43.90 L280.33,43.21 L282.07,42.56 L283.82,41.92 L285.56,41.31 L287.30,40.73 L289.04,40.16 L290.78,39.62 L292.52,39.11 L294.26,38.61 L296.00,38.14 L297.75,37.68 L299.49,37.25 L301.23,36.84 L302.97,36.45 L304.71,36.08 L306.45,35.72 L308.19,35.39 L309.93,35.07 L311.67,34.77 L313.42,34.49 L315.16,34.22 L316.90,33.97 L318.64,33.74 L320.38,33.52 L322.12,33.32 L323.86,33.13 L325.60,32.95 L327.35,32.79 L329.09,32.64 L330.83,32.50 L332.57,32.38 L334.31,32.27 L336.05,32.16 L337.79,32.07 L339.53,31.99 L341.28,31.92 L343.02,31.85 L344.76,31.80 L346.50,31.76 L348.24,31.72 L349.98,31.69 L351.72,31.66 L353.46,31.65 L355.21,31.64 L356.95,31.63 L358.69,31.63 L360.43,31.64 L362.17,31.65 L363.91,31.66 L365.65,31.67 L367.39,31.69 L369.13,31.71 L370.88,31.74 L372.62,31.76 L374.36,31.79 L376.10,31.81 L377.84,31.84 L379.58,31.86 L381.32,31.89 L383.06,31.91 L384.81,31.93 L386.55,31.95 L388.29,31.97 L390.03,31.98 L391.77,31.99 L393.51,32.00 L395.25,32.00 L396.99,32.00 L398.74,31.99 L400.48,31.98 L402.22,31.95 L403.96,31.93 L405.70,31.89 L405.70,31.83 L403.96,31.98 L402.22,32.12 L400.48,32.25 L398.74,32.38 L396.99,32.51 L395.25,32.63 L393.51,32.75 L391.77,32.87 L390.03,32.98 L388.29,33.10 L386.55,33.21 L384.81,33.33 L383.06,33.44 L381.32,33.56 L379.58,33.67 L377.84,33.79 L376.10,33.91 L374.36,34.04 L372.62,34.17 L370.88,34.30 L369.13,34.43 L367.39,34.58 L365.65,34.72 L363.91,34.88 L362.17,35.04 L360.43,35.21 L358.69,35.38 L356.95,35.56 L355.21,35.76 L353.46,35.96 L351.72,36.17 L349.98,36.39 L348.24,36.62 L346.50,36.87 L344.76,37.12 L343.02,37.39 L341.28,37.67 L339.53,37.97 L337.79,38.28 L336.05,38.60 L334.31,38.94 L332.57,39.29 L330.83,39.66 L329.09,40.05 L327.35,40.45 L325.60,40.87 L323.86,41.31 L322.12,41.77 L320.38,42.24 L318.64,42.74 L316.90,43.26 L315.16,43.79 L313.42,44.35 L311.67,44.93 L309.93,45.54 L308.19,46.16 L306.45,46.81 L304.71,47.48 L302.97,48.18 L301.23,48.90 L299.49,49.65 L297.75,50.42 L296.00,51.22 L294.26,52.05 L292.52,52.90 L290.78,53.77 L289.04,54.67 L287.30,55.59 L285.56,56.54 L283.82,57.51 L282.07,58.51 L280.33,59.52 L278.59,60.56 L276.85,61.62 L275.11,62.71 L273.37,63.81 L271.63,64.94 L269.89,66.09 L268.14,67.26 L266.40,68.45 L264.66,69.66 L262.92,70.88 L261.18,72.13 L259.44,73.40 L257.70,74.69 L255.96,75.99 L254.22,77.32 L252.47,78.66 L250.73,80.02 L248.99,81.39 L247.25,82.79 L245.51,84.20 L243.77,85.62 L242.03,87.07 L240.29,88.52 L238.54,90.00 L236.80,91.49 L235.06,92.99 L233.32,94.51 L231.58,96.04 L229.84,97.59 L228.10,99.14 L226.36,100.72 L224.61,102.30 L222.87,103.90 L221.13,105.51 L219.39,107.13 L217.65,108.77 L215.91,110.41 L214.17,112.07 L212.43,113.73 L210.68,115.41 L208.94,117.09 L207.20,118.78 L205.46,120.48 L203.72,122.19 L201.98,123.91 L200.24,125.63 L198.50,127.36 L196.76,129.10 L195.01,130.84 L193.27,132.59 L191.53,134.34 L189.79,136.10 L188.05,137.86 L186.31,139.62 L184.57,141.39 L182.83,143.16 L181.08,144.93 L179.34,146.71 L177.60,148.48 L175.86,150.26 L174.12,152.04 L172.38,153.82 L170.64,155.59 L168.90,157.37 L167.15,159.15 L165.41,160.92 L163.67,162.69 L161.93,164.46 L160.19,166.23 L158.45,167.99 L156.71,169.76 L154.97,171.51 L153.23,173.26 L151.48,175.01 L149.74,176.74 L148.00,178.46 L146.26,180.18 L144.52,181.88 L142.78,183.56 L141.04,185.22 L139.30,186.87 L137.55,188.49 L135.81,190.10 L134.07,191.68 L132.33,193.23 L130.59,194.76 L128.85,196.26 L127.11,197.74 L125.37,199.20 L123.62,200.63 L121.88,202.03 L120.14,203.41 L118.40,204.77 L116.66,206.09 L114.92,207.40 L113.18,208.67 L111.44,209.93 L109.69,211.15 L107.95,212.35 L106.21,213.53 L104.47,214.68 L102.73,215.80 L100.99,216.91 L99.25,217.98 L97.51,219.04 L95.77,220.07 L94.02,221.08 L92.28,222.06 L90.54,223.02 L88.80,223.97 L87.06,224.88 L85.32,225.78 L83.58,226.66 L81.84,227.52 L80.09,228.35 L78.35,229.17 L76.61,229.96 L74.87,230.73 L73.13,231.49 L71.39,232.22 L69.65,232.93 L67.91,233.62 L66.16,234.30 L64.42,234.95 L62.68,235.58 L60.94,236.19 L59.20,236.79Z" fill="none" stroke="#ff0000" stroke-width="1"/>
<path d="M59.20,219.75 L60.07,219.30 L60.94,218.85 L61.81,218.39 L62.67,217.92 L63.54,217.45 L64.41,216.97 L65.28,216.48 L66.15,215.99 L67.02,215.50 L67.88,214.99 L68.75,214.49 L69.62,213.97 L70.49,213.45 L71.36,212.93 L72.23,212.39 L73.09,211.86 L73.96,211.32 L74.83,210.77 L75.70,210.21 L76.57,209.66 L77.44,209.09 L78.31,208.52 L79.17,207.95 L80.04,207.37 L80.91,206.79 L81.78,206.20 L82.65,205.60 L83.52,205.00 L84.38,204.40 L85.25,203.79 L86.12,203.17 L86.99,202.56 L87.86,201.93 L88.73,201.30 L89.59,200.67 L90.46,200.03 L91.33,199.39 L92.20,198.75 L93.07,198.10 L93.94,197.44 L94.81,196.78 L95.67,196.12 L96.54,195.45 L97.41,194.78 L98.28,194.11 L99.15,193.43 L100.02,192.74 L100.88,192.05 L101.75,191.36 L102.62,190.67 L103.49,189.97 L104.36,189.27 L105.23,188.56 L106.09,187.85 L106.96,187.14 L107.83,186.42 L108.70,185.70 L109.57,184.97 L110.44,184.25 L111.31,183.52 L112.17,182.78 L113.04,182.04 L113.91,181.30 L114.78,180.56 L115.65,179.81 L116.52,179.07 L117.38,178.31 L118.25,177.56 L119.12,176.80 L119.99,176.04 L120.86,175.27 L121.73,174.51 L122.59,173.74 L123.46,172.97 L124.33,172.19 L125.20,171.42 L126.07,170.64 L126.94,169.85 L127.81,169.07 L128.67,168.28 L129.54,167.50 L130.41,166.70 L131.28,165.91 L132.15,165.12 L133.02,164.32 L133.88,163.52 L134.75,162.72 L135.62,161.92 L136.49,161.11 L137.36,160.31 L138.23,159.50 L139.09,158.69 L139.96,157.88 L140.83,157.06 L141.70,156.25 L142.57,155.43 L143.44,154.61 L144.31,153.79 L145.17,152.97 L146.04,152.15 L146.91,151.33 L147.78,150.50 L148.65,149.68 L149.52,148.85 L150.38,148.02 L151.25,147.19 L152.12,146.35 L152.99,145.52 L153.86,144.68 L154.73,143.85 L155.59,143.01 L156.46,142.17 L157.33,141.33 L158.20,140.48 L159.07,139.64 L159.94,138.79 L160.81,137.94 L161.67,137.09 L162.54,136.24 L163.41,135.39 L164.28,134.54 L165.15,133.68 L166.02,132.82 L166.88,131.97 L167.75,131.11 L168.62,130.24 L169.49,129.38 L170.36,128.52 L171.23,127.65 L172.09,126.78 L172.96,125.91 L173.83,125.04 L174.70,124.17 L175.57,123.30 L176.44,122.43 L177.31,121.56 L178.17,120.69 L179.04,119.82 L179.91,118.95 L180.78,118.08 L181.65,117.22 L182.52,116.36 L183.38,115.50 L184.25,114.65 L185.12,113.80 L185.99,112.95 L186.86,112.11 L187.73,111.27 L188.59,110.44 L189.46,109.61 L190.33,108.79 L191.20,107.98 L192.07,107.17 L192.94,106.37 L193.81,105.58 L194.67,104.79 L195.54,104.01 L196.41,103.24 L197.28,102.48 L198.15,101.73 L199.02,100.99 L199.88,100.26 L200.75,99.54 L201.62,98.83 L202.49,98.12 L203.36,97.42 L204.23,96.73 L205.09,96.05 L205.96,95.36 L206.83,94.69 L207.70,94.01 L208.57,93.34 L209.44,92.67 L210.31,92.00 L211.17,91.33 L212.04,90.65 L212.91,89.98 L213.78,89.30 L214.65,88.62 L215.52,87.94 L216.38,87.25 L217.25,86.55 L218.12,85.85 L218.99,85.14 L219.86,84.42 L220.73,83.69 L221.59,82.96 L222.46,82.22 L223.33,81.47 L224.20,80.72 L225.07,79.98 L225.94,79.23 L226.81,78.49 L227.67,77.75 L228.54,77.01 L229.41,76.29 L230.28,75.57 L231.15,74.87 L232.02,74.18 L232.88,73.50 L233.75,72.84 L234.62,72.19 L235.49,71.55 L236.36,70.93 L237.23,70.32 L238.09,69.72 L238.96,69.13 L239.83,68.54 L240.70,67.97 L241.57,67.41 L242.44,66.85 L243.31,66.30 L244.17,65.76 L245.04,65.22 L245.91,64.69 L246.78,64.16 L247.65,63.63 L248.52,63.11 L249.38,62.59 L250.25,62.07 L251.12,61.56 L251.99,61.05 L252.86,60.53 L253.73,60.03 L254.59,59.52 L255.46,59.02 L256.33,58.51 L257.20,58.02 L258.07,57.52 L258.94,57.03 L259.81,56.55 L260.67,56.06 L261.54,55.59 L262.41,55.11 L263.28,54.65 L264.15,54.18 L265.02,53.72 L265.88,53.27 L266.75,52.82 L267.62,52.38 L268.49,51.95 L269.36,51.52 L270.23,51.10 L271.09,50.68 L271.96,50.27 L272.83,49.87 L273.70,49.47 L274.57,49.07 L275.44,48.69 L276.31,48.31 L277.17,47.93 L278.04,47.56 L278.91,47.20 L279.78,46.84 L280.65,46.49 L281.52,46.14 L282.38,45.80 L283.25,45.46 L284.12,45.13 L284.99,44.81 L285.86,44.49 L286.73,44.17 L287.59,43.86 L288.46,43.56 L289.33,43.26 L290.20,42.96 L291.07,42.68 L291.94,42.39 L292.81,42.11 L293.67,41.84 L294.54,41.57 L295.41,41.31 L296.28,41.05 L297.15,40.79 L298.02,40.54 L298.88,40.30 L299.75,40.06 L300.62,39.82 L301.49,39.59 L302.36,39.36 L303.23,39.14 L304.09,38.92 L304.96,38.71 L305.83,38.50 L306.70,38.29 L307.57,38.09 L308.44,37.90 L309.31,37.70 L310.17,37.52 L311.04,37.33 L311.91,37.15 L312.78,36.98 L313.65,36.80 L314.52,36.63 L315.38,36.47 L316.25,36.31 L317.12,36.15 L317.99,36.00 L318.86,35.85 L319.73,35.70 L320.59,35.56 L321.46,35.42 L322.33,35.29 L323.20,35.16 L324.07,35.03 L324.94,34.90 L325.81,34.78 L326.67,34.67 L327.54,34.55 L328.41,34.44 L329.28,34.33 L330.15,34.22 L331.02,34.12 L331.88,34.02 L332.75,33.93 L333.62,33.83 L334.49,33.74 L335.36,33.66 L336.23,33.57 L337.09,33.49 L337.96,33.41 L338.83,33.33 L339.70,33.26 L340.57,33.19 L341.44,33.12 L342.31,33.05 L343.17,32.99 L344.04,32.93 L344.91,32.87 L345.78,32.81 L346.65,32.76 L347.52,32.71 L348.38,32.66 L349.25,32.61 L350.12,32.57 L350.99,32.52 L351.86,32.48 L352.73,32.44 L353.59,32.41 L354.46,32.37 L355.33,32.34 L356.20,32.31 L357.07,32.28 L357.94,32.25 L358.81,32.22 L359.67,32.20 L360.54,32.17 L361.41,32.15 L362.28,32.13 L363.15,32.11 L364.02,32.10 L364.88,32.08 L365.75,32.07 L366.62,32.05 L367.49,32.04 L368.36,32.03 L369.23,32.02 L370.09,32.02 L370.96,32.01 L371.83,32.00 L372.70,32.00 L373.57,31.99 L374.44,31.99 L375.31,31.99 L376.17,31.99 L377.04,31.99 L377.91,31.99 L378.78,31.99 L379.65,31.99 L380.52,31.99 L381.38,31.99 L382.25,32.00 L383.12,32.00 L383.99,32.01 L384.86,32.01 L385.73,32.02 L386.59,32.02 L387.46,32.03 L388.33,32.03 L389.20,32.04 L390.07,32.05 L390.94,32.05 L391.81,32.06 L392.67,32.07 L393.54,32.07 L394.41,32.08 L395.28,32.08 L396.15,32.09" fill="none" stroke="#7070ff" stroke-width="1.0"/>
<path d="M59.20,222.08 L60.07,221.73 L60.94,221.37 L61.81,221.00 L62.67,220.62 L63.54,220.24 L64.41,219.84 L65.28,219.44 L66.15,219.03 L67.02,218.60 L67.88,218.18 L68.75,217.74 L69.62,217.29 L70.49,216.84 L71.36,216.38 L72.23,215.91 L73.09,215.43 L73.96,214.95 L74.83,214.46 L75.70,213.96 L76.57,213.46 L77.44,212.95 L78.31,212.43 L79.17,211.90 L80.04,211.37 L80.91,210.83 L81.78,210.29 L82.65,209.74 L83.52,209.18 L84.38,208.62 L85.25,208.05 L86.12,207.48 L86.99,206.90 L87.86,206.31 L88.73,205.72 L89.59,205.13 L90.46,204.52 L91.33,203.92 L92.20,203.31 L93.07,202.69 L93.94,202.07 L94.81,201.45 L95.67,200.82 L96.54,200.19 L97.41,199.55 L98.28,198.91 L99.15,198.26 L100.02,197.61 L100.88,196.96 L101.75,196.30 L102.62,195.64 L103.49,194.98 L104.36,194.31 L105.23,193.65 L106.09,192.97 L106.96,192.30 L107.83,191.62 L108.70,190.94 L109.57,190.26 L110.44,189.57 L111.31,188.88 L112.17,188.19 L113.04,187.49 L113.91,186.80 L114.78,186.10 L115.65,185.39 L116.52,184.69 L117.38,183.98 L118.25,183.27 L119.12,182.55 L119.99,181.84 L120.86,181.12 L121.73,180.40 L122.59,179.67 L123.46,178.95 L124.33,178.22 L125.20,177.48 L126.07,176.75 L126.94,176.01 L127.81,175.27 L128.67,174.53 L129.54,173.79 L130.41,173.04 L131.28,172.29 L132.15,171.54 L133.02,170.79 L133.88,170.03 L134.75,169.27 L135.62,168.51 L136.49,167.75 L137.36,166.98 L138.23,166.21 L139.09,165.44 L139.96,164.67 L140.83,163.89 L141.70,163.12 L142.57,162.34 L143.44,161.56 L144.31,160.77 L145.17,159.99 L146.04,159.20 L146.91,158.41 L147.78,157.62 L148.65,156.82 L149.52,156.03 L150.38,155.23 L151.25,154.43 L152.12,153.63 L152.99,152.82 L153.86,152.02 L154.73,151.21 L155.59,150.40 L156.46,149.59 L157.33,148.78 L158.20,147.96 L159.07,147.15 L159.94,146.33 L160.81,145.51 L161.67,144.69 L162.54,143.86 L163.41,143.04 L164.28,142.21 L165.15,141.39 L166.02,140.56 L166.88,139.73 L167.75,138.89 L168.62,138.06 L169.49,137.23 L170.36,136.39 L171.23,135.55 L172.09,134.72 L172.96,133.88 L173.83,133.04 L174.70,132.21 L175.57,131.37 L176.44,130.53 L177.31,129.69 L178.17,128.86 L179.04,128.02 L179.91,127.18 L180.78,126.35 L181.65,125.52 L182.52,124.68 L183.38,123.85 L184.25,123.02 L185.12,122.19 L185.99,121.37 L186.86,120.54 L187.73,119.72 L188.59,118.90 L189.46,118.08 L190.33,117.26 L191.20,116.45 L192.07,115.64 L192.94,114.83 L193.81,114.03 L194.67,113.23 L195.54,112.43 L196.41,111.63 L197.28,110.84 L198.15,110.06 L199.02,109.27 L199.88,108.49 L200.75,107.71 L201.62,106.94 L202.49,106.17 L203.36,105.40 L204.23,104.64 L205.09,103.88 L205.96,103.13 L206.83,102.37 L207.70,101.63 L208.57,100.88 L209.44,100.14 L210.31,99.40 L211.17,98.67 L212.04,97.94 L212.91,97.21 L213.78,96.49 L214.65,95.77 L215.52,95.05 L216.38,94.34 L217.25,93.63 L218.12,92.93 L218.99,92.23 L219.86,91.53 L220.73,90.84 L221.59,90.15 L222.46,89.46 L223.33,88.78 L224.20,88.10 L225.07,87.43 L225.94,86.76 L226.81,86.09 L227.67,85.43 L228.54,84.77 L229.41,84.11 L230.28,83.46 L231.15,82.82 L232.02,82.17 L232.88,81.53 L233.75,80.90 L234.62,80.26 L235.49,79.64 L236.36,79.01 L237.23,78.39 L238.09,77.78 L238.96,77.16 L239.83,76.56 L240.70,75.95 L241.57,75.35 L242.44,74.75 L243.31,74.16 L244.17,73.57 L245.04,72.99 L245.91,72.41 L246.78,71.83 L247.65,71.26 L248.52,70.69 L249.38,70.13 L250.25,69.57 L251.12,69.01 L251.99,68.46 L252.86,67.91 L253.73,67.37 L254.59,66.83 L255.46,66.29 L256.33,65.76 L257.20,65.24 L258.07,64.71 L258.94,64.20 L259.81,63.68 L260.67,63.17 L261.54,62.66 L262.41,62.16 L263.28,61.66 L264.15,61.17 L265.02,60.68 L265.88,60.20 L266.75,59.72 L267.62,59.24 L268.49,58.77 L269.36,58.30 L270.23,57.84 L271.09,57.38 L271.96,56.93 L272.83,56.48 L273.70,56.03 L274.57,55.59 L275.44,55.15 L276.31,54.72 L277.17,54.30 L278.04,53.87 L278.91,53.45 L279.78,53.04 L280.65,52.63 L281.52,52.23 L282.38,51.83 L283.25,51.43 L284.12,51.04 L284.99,50.65 L285.86,50.27 L286.73,49.90 L287.59,49.52 L288.46,49.16 L289.33,48.79 L290.20,48.44 L291.07,48.08 L291.94,47.73 L292.81,47.39 L293.67,47.05 L294.54,46.72 L295.41,46.39 L296.28,46.06 L297.15,45.74 L298.02,45.43 L298.88,45.12 L299.75,44.81 L300.62,44.51 L301.49,44.22 L302.36,43.93 L303.23,43.64 L304.09,43.36 L304.96,43.09 L305.83,42.81 L306.70,42.55 L307.57,42.29 L308.44,42.03 L309.31,41.78 L310.17,41.54 L311.04,41.30 L311.91,41.06 L312.78,40.83 L313.65,40.60 L314.52,40.38 L315.38,40.17 L316.25,39.95 L317.12,39.75 L317.99,39.54 L318.86,39.34 L319.73,39.15 L320.59,38.96 L321.46,38.77 L322.33,38.59 L323.20,38.42 L324.07,38.24 L324.94,38.07 L325.81,37.91 L326.67,37.75 L327.54,37.59 L328.41,37.43 L329.28,37.28 L330.15,37.14 L331.02,37.00 L331.88,36.86 L332.75,36.72 L333.62,36.59 L334.49,36.46 L335.36,36.33 L336.23,36.21 L337.09,36.09 L337.96,35.98 L338.83,35.86 L339.70,35.75 L340.57,35.65 L341.44,35.54 L342.31,35.44 L343.17,35.35 L344.04,35.25 L344.91,35.16 L345.78,35.07 L346.65,34.98 L347.52,34.90 L348.38,34.81 L349.25,34.74 L350.12,34.66 L350.99,34.58 L351.86,34.51 L352.73,34.44 L353.59,34.37 L354.46,34.31 L355.33,34.24 L356.20,34.18 L357.07,34.12 L357.94,34.06 L358.81,34.00 L359.67,33.95 L360.54,33.90 L361.41,33.85 L362.28,33.80 L363.15,33.75 L364.02,33.70 L364.88,33.66 L365.75,33.61 L366.62,33.57 L367.49,33.53 L368.36,33.49 L369.23,33.45 L370.09,33.41 L370.96,33.37 L371.83,33.34 L372.70,33.30 L373.57,33.27 L374.44,33.24 L375.31,33.20 L376.17,33.17 L377.04,33.14 L377.91,33.11 L378.78,33.08 L379.65,33.05 L380.52,33.02 L381.38,32.99 L382.25,32.96 L383.12,32.94 L383.99,32.91 L384.86,32.88 L385.73,32.85 L386.59,32.82 L387.46,32.80 L388.33,32.77 L389.20,32.74 L390.07,32.71 L390.94,32.68 L391.81,32.65 L392.67,32.63 L393.54,32.60 L394.41,32.57 L395.28,32.53 L396.15,32.50" fill="none" stroke="#7070ff" stroke-width="1.0"/>
<path d="M59.20,222.08 L60.07,221.73 L60.94,221.37 L61.81,221.00 L62.67,220.62 L63.54,220.24 L64.41,219.84 L65.28,219.44 L66.15,219.03 L67.02,218.60 L67.88,218.18 L68.75,217.74 L69.62,217.29 L70.49,216.84 L71.36,216.38 L72.23,215.91 L73.09,215.38 L73.96,214.78 L74.83,214.12 L75.70,213.41 L76.57,212.68 L77.44,211.93 L78.31,211.18 L79.17,210.34 L80.04,209.43 L80.91,208.47 L81.78,207.48 L82.65,206.49 L83.52,205.53 L84.38,204.64 L85.25,203.84 L86.12,203.17 L86.99,202.56 L87.86,201.93 L88.73,201.30 L89.59,200.67 L90.46,200.03 L91.33,199.39 L92.20,198.75 L93.07,198.10 L93.94,197.44 L94.81,196.78 L95.67,196.12 L96.54,195.45 L97.41,194.78 L98.28,194.11 L99.15,193.43 L100.02,192.74 L100.88,192.23 L101.75,191.96 L102.62,191.82 L103.49,191.68 L104.36,191.40 L105.23,190.86 L106.09,190.23 L106.96,189.58 L107.83,188.93 L108.70,188.26 L109.57,187.58 L110.44,186.89 L111.31,186.20 L112.17,185.48 L113.04,184.76 L113.91,184.03 L114.78,183.28 L115.65,182.53 L116.52,181.76 L117.38,180.97 L118.25,180.18 L119.12,179.37 L119.99,178.55 L120.86,177.72 L121.73,176.87 L122.59,176.01 L123.46,175.14 L124.33,174.22 L125.20,172.99 L126.07,171.58 L126.94,170.20 L127.81,169.08 L128.67,168.28 L129.54,167.50 L130.41,166.70 L131.28,165.91 L132.15,165.12 L133.02,164.32 L133.88,163.52 L134.75,162.72 L135.62,161.92 L136.49,161.11 L137.36,160.31 L138.23,159.50 L139.09,158.69 L139.96,157.88 L140.83,157.06 L141.70,156.25 L142.57,155.43 L143.44,154.61 L144.31,153.79 L145.17,152.97 L146.04,152.15 L146.91,151.33 L147.78,150.50 L148.65,149.68 L149.52,148.85 L150.38,148.02 L151.25,147.19 L152.12,146.35 L152.99,145.52 L153.86,144.68 L154.73,143.85 L155.59,143.01 L156.46,142.17 L157.33,141.33 L158.20,140.48 L159.07,139.64 L159.94,138.79" fill="none" stroke="#7070ff" stroke-width="1.15"/>
<path d="M184.25,123.02 L185.12,122.19 L185.99,121.37 L186.86,120.54 L187.73,119.72 L188.59,118.90 L189.46,118.08 L190.33,117.26 L191.20,116.45 L192.07,115.64 L192.94,114.83 L193.81,114.03 L194.67,113.23 L195.54,112.43 L196.41,111.63 L197.28,110.84 L198.15,110.06 L199.02,109.27 L199.88,108.49 L200.75,107.71 L201.62,106.94 L202.49,106.17 L203.36,105.40 L204.23,104.64 L205.09,103.88 L205.96,102.52 L206.83,100.70 L207.70,99.09 L208.57,98.12 L209.44,97.25 L210.31,96.43 L211.17,95.63 L212.04,94.85 L212.91,94.07 L213.78,93.28 L214.65,92.48 L215.52,91.68 L216.38,90.89 L217.25,90.10 L218.12,89.29 L218.99,88.48 L219.86,87.64 L220.73,86.79 L221.59,85.90 L222.46,85.00 L223.33,84.07 L224.20,83.11 L225.07,82.14 L225.94,81.13 L226.81,80.01 L227.67,78.75 L228.54,77.48 L229.41,76.38 L230.28,75.62 L231.15,75.46 L232.02,75.39 L232.88,75.13 L233.75,74.85 L234.62,74.56 L235.49,74.27 L236.36,73.97 L237.23,73.67 L238.09,73.38 L238.96,73.13 L239.83,72.92 L240.70,72.71 L241.57,72.47 L242.44,72.16 L243.31,71.76 L244.17,71.23 L245.04,70.62 L245.91,69.96 L246.78,69.27 L247.65,68.55 L248.52,67.83 L249.38,67.09 L250.25,66.36 L251.12,65.57 L251.99,64.71 L252.86,63.82 L253.73,62.94 L254.59,62.09 L255.46,61.32 L256.33,60.63 L257.20,59.97 L258.07,59.33 L258.94,58.70 L259.81,58.10 L260.67,57.53 L261.54,57.01 L262.41,56.52 L263.28,56.05 L264.15,55.58 L265.02,55.12 L265.88,54.66 L266.75,54.20 L267.62,53.76 L268.49,53.34 L269.36,53.06 L270.23,52.88 L271.09,52.78 L271.96,52.71 L272.83,52.62 L273.70,52.49 L274.57,52.28 L275.44,51.96 L276.31,51.61 L277.17,51.26 L278.04,50.91 L278.91,50.56 L279.78,50.20 L280.65,49.85 L281.52,49.51 L282.38,49.17 L283.25,48.84 L284.12,48.52 L284.99,48.19 L285.86,47.87 L286.73,47.55 L287.59,47.23 L288.46,46.90 L289.33,46.58 L290.20,46.25 L291.07,45.87 L291.94,45.44 L292.81,44.98 L293.67,44.49 L294.54,43.99 L295.41,43.50 L296.28,43.02 L297.15,42.57 L298.02,42.16 L298.88,41.79 L299.75,41.49 L300.62,41.23 L301.49,40.98 L302.36,40.73 L303.23,40.49 L304.09,40.25 L304.96,40.02 L305.83,39.79 L306.70,39.57 L307.57,39.35 L308.44,39.14 L309.31,38.93 L310.17,38.72 L311.04,38.52 L311.91,38.32 L312.78,38.13 L313.65,37.94 L314.52,37.76 L315.38,37.58 L316.25,37.40 L317.12,37.23 L317.99,37.06 L318.86,36.90 L319.73,36.74 L320.59,36.58 L321.46,36.43 L322.33,36.29 L323.20,36.15 L324.07,36.02 L324.94,35.90 L325.81,35.77 L326.67,35.66 L327.54,35.54 L328.41,35.44 L329.28,35.33 L330.15,35.23 L331.02,35.13 L331.88,35.03 L332.75,34.94 L333.62,34.85 L334.49,34.76 L335.36,34.67 L336.23,34.59 L337.09,34.50 L337.96,34.42 L338.83,34.34 L339.70,34.26 L340.57,34.18 L341.44,34.10 L342.31,34.02 L343.17,33.95 L344.04,33.88 L344.91,33.81 L345.78,33.75 L346.65,33.69 L347.52,33.63 L348.38,33.57 L349.25,33.51" fill="none" stroke="#7070ff" stroke-width="1.55"/>
</g>
<g clip-path="url(#cl)">
<path clip-path="url(#krl)" d="M-35.76,249.30L50.02,403.70M-31.00,249.30L54.78,403.70M-26.25,249.30L59.53,403.70M-21.49,249.30L64.29,403.70M-16.74,249.30L69.04,403.70M-11.98,249.30L73.80,403.70M-7.23,249.30L78.55,403.70M-2.47,249.30L83.31,403.70M2.28,249.30L88.06,403.70M7.04,249.30L92.81,403.70M11.79,249.30L97.57,403.70M16.55,249.30L102.33,403.70M21.30,249.30L107.08,403.70M26.06,249.30L111.84,403.70M30.81,249.30L116.59,403.70M35.57,249.30L121.34,403.70M40.32,249.30L126.10,403.70M45.08,249.30L130.86,403.70M49.83,249.30L135.61,403.70M54.59,249.30L140.37,403.70M59.34,249.30L145.12,403.70M64.10,249.30L149.88,403.70M68.85,249.30L154.63,403.70M73.61,249.30L159.38,403.70M78.36,249.30L164.14,403.70M83.12,249.30L168.90,403.70M87.87,249.30L173.65,403.70M92.63,249.30L178.41,403.70M97.38,249.30L183.16,403.70M102.14,249.30L187.92,403.70M106.89,249.30L192.67,403.70M111.65,249.30L197.43,403.70M116.40,249.30L202.18,403.70M121.16,249.30L206.94,403.70M125.91,249.30L211.69,403.70M130.67,249.30L216.44,403.70M135.42,249.30L221.20,403.70M140.18,249.30L225.95,403.70M144.93,249.30L230.71,403.70M149.69,249.30L235.47,403.70M154.44,249.30L240.22,403.70M159.20,249.30L244.98,403.70M163.95,249.30L249.73,403.70M168.71,249.30L254.49,403.70M173.46,249.30L259.24,403.70M178.22,249.30L264.00,403.70M182.97,249.30L268.75,403.70M187.73,249.30L273.50,403.70M192.48,249.30L278.26,403.70M197.24,249.30L283.01,403.70M201.99,249.30L287.77,403.70M206.75,249.30L292.52,403.70M211.50,249.30L297.28,403.70M216.26,249.30L302.03,403.70M221.01,249.30L306.79,403.70M225.77,249.30L311.54,403.70M230.52,249.30L316.30,403.70M235.28,249.30L321.06,403.70M240.03,249.30L325.81,403.70M244.79,249.30L330.56,403.70M249.54,249.30L335.32,403.70M254.30,249.30L340.07,403.70M259.05,249.30L344.83,403.70M263.81,249.30L349.59,403.70M268.56,249.30L354.34,403.70M273.32,249.30L359.10,403.70M278.07,249.30L363.85,403.70M282.83,249.30L368.61,403.70M287.58,249.30L373.36,403.70M292.34,249.30L378.12,403.70M297.09,249.30L382.87,403.70M301.85,249.30L387.62,403.70M306.60,249.30L392.38,403.70M311.36,249.30L397.13,403.70M316.11,249.30L401.89,403.70M320.87,249.30L406.64,403.70M325.62,249.30L411.40,403.70M330.38,249.30L416.15,403.70M335.13,249.30L420.91,403.70M339.89,249.30L425.67,403.70M344.64,249.30L430.42,403.70M349.40,249.30L435.18,403.70M354.15,249.30L439.93,403.70M358.91,249.30L444.69,403.70M363.66,249.30L449.44,403.70M368.42,249.30L454.19,403.70M373.17,249.30L458.95,403.70M377.93,249.30L463.70,403.70M382.68,249.30L468.46,403.70M387.44,249.30L473.21,403.70M392.19,249.30L477.97,403.70M396.95,249.30L482.73,403.70M401.70,249.30L487.48,403.70M406.46,249.30L492.24,403.70M411.21,249.30L496.99,403.70" stroke="#ff0000" stroke-width="1.2" fill="none"/>
<path d="M59.20,180.00 L60.94,184.78 L62.68,189.61 L64.42,194.49 L66.16,199.42 L67.90,204.38 L69.64,209.39 L71.38,214.43 L73.13,219.50 L74.87,224.61 L76.61,230.06 L78.35,235.93 L80.09,241.66 L81.83,246.69 L83.57,250.48 L85.31,253.09 L87.05,255.48 L88.79,257.75 L90.53,259.88 L92.27,261.80 L94.01,263.55 L95.75,265.18 L97.50,266.72 L99.24,268.24 L100.98,269.58 L102.72,270.69 L104.46,271.38 L106.20,271.82 L107.94,272.21 L109.68,272.61 L111.42,272.99 L113.16,273.36 L114.90,273.73 L116.64,274.09 L118.38,274.44 L120.12,274.78 L121.87,275.10 L123.61,275.42 L125.35,275.75 L127.09,276.12 L128.83,276.51 L130.57,276.92 L132.31,277.34 L134.05,277.75 L135.79,278.19 L137.53,278.62 L139.27,279.04 L141.01,279.41 L142.75,279.76 L144.49,280.10 L146.24,280.48 L147.98,280.90 L149.72,281.34 L151.46,281.81 L153.20,282.29 L154.94,282.80 L156.68,283.31 L158.42,283.80 L160.16,284.29 L161.90,284.76 L163.64,285.21 L165.38,285.62 L167.12,286.01 L168.86,286.39 L170.61,286.76 L172.35,287.13 L174.09,287.55 L175.83,288.03 L177.57,288.54 L179.31,289.06 L181.05,289.54 L182.79,290.01 L184.53,290.48 L186.27,290.96 L188.01,291.46 L189.75,291.94 L191.49,292.35 L193.23,292.71 L194.97,293.08 L196.72,293.50 L198.46,293.97 L200.20,294.45 L201.94,294.94 L203.68,295.43 L205.42,295.94 L207.16,296.44 L208.90,296.94 L210.64,297.43 L212.38,297.93 L214.12,298.44 L215.86,298.98 L217.60,299.52 L219.34,299.99 L221.09,300.43 L222.83,300.86 L224.57,301.29 L226.31,301.70 L228.05,302.11 L229.79,302.52 L231.53,302.94 L233.27,303.37 L235.01,303.78 L236.75,304.16 L238.49,304.52 L240.23,304.85 L241.97,305.18 L243.71,305.50 L245.46,305.83 L247.20,306.19 L248.94,306.57 L250.68,307.00 L252.42,307.48 L254.16,307.99 L255.90,308.52 L257.64,309.03 L259.38,309.50 L261.12,309.94 L262.86,310.35 L264.60,310.76 L266.34,311.17 L268.08,311.60 L269.83,312.04 L271.57,312.49 L273.31,312.94 L275.05,313.38 L276.79,313.80 L278.53,314.20 L280.27,314.58 L282.01,314.94 L283.75,315.29 L285.49,315.64 L287.23,315.98 L288.97,316.31 L290.71,316.62 L292.45,316.94 L294.19,317.25 L295.94,317.59 L297.68,317.94 L299.42,318.31 L301.16,318.68 L302.90,319.05 L304.64,319.41 L306.38,319.75 L308.12,320.09 L309.86,320.42 L311.60,320.74 L313.34,321.05 L315.08,321.35 L316.82,321.63 L318.56,321.90 L320.31,322.16 L322.05,322.42 L323.79,322.67 L325.53,322.91 L327.27,323.14 L329.01,323.36 L330.75,323.59 L332.49,323.83 L334.23,324.08 L335.97,324.35 L337.71,324.63 L339.45,324.90 L341.19,325.17 L342.93,325.42 L344.68,325.66 L346.42,325.89 L348.16,326.11 L349.90,326.34 L351.64,326.56 L353.38,326.77 L355.12,326.99 L356.86,327.20 L358.60,327.41 L360.34,327.60 L362.08,327.80 L363.82,327.99 L365.56,328.17 L367.30,328.35 L369.05,328.51 L370.79,328.67 L372.53,328.81 L374.27,328.95 L376.01,329.09 L377.75,329.22 L379.49,329.34 L381.23,329.46 L382.97,329.58 L384.71,329.68 L386.45,329.79 L388.19,329.88 L389.93,329.98 L391.67,330.08 L393.42,330.17 L395.16,330.26 L396.90,330.34 L398.64,330.42 L400.38,330.50 L402.12,330.57 L403.86,330.64 L405.60,330.70 L405.60,333.40 L403.86,333.40 L402.12,333.40 L400.38,333.40 L398.64,333.40 L396.90,333.41 L395.16,333.41 L393.42,333.41 L391.67,333.42 L389.93,333.42 L388.19,333.43 L386.45,333.43 L384.71,333.44 L382.97,333.44 L381.23,333.45 L379.49,333.46 L377.75,333.46 L376.01,333.47 L374.27,333.48 L372.53,333.49 L370.79,333.50 L369.05,333.51 L367.30,333.52 L365.56,333.53 L363.82,333.55 L362.08,333.58 L360.34,333.60 L358.60,333.63 L356.86,333.66 L355.12,333.70 L353.38,333.74 L351.64,333.79 L349.90,333.84 L348.16,333.89 L346.42,333.94 L344.68,334.00 L342.93,334.07 L341.19,334.14 L339.45,334.23 L337.71,334.33 L335.97,334.43 L334.23,334.53 L332.49,334.63 L330.75,334.71 L329.01,334.79 L327.27,334.88 L325.53,334.97 L323.79,335.07 L322.05,335.19 L320.31,335.33 L318.56,335.48 L316.82,335.64 L315.08,335.81 L313.34,335.99 L311.60,336.17 L309.86,336.36 L308.12,336.55 L306.38,336.75 L304.64,336.95 L302.90,337.16 L301.16,337.37 L299.42,337.58 L297.68,337.80 L295.94,338.01 L294.19,338.21 L292.45,338.41 L290.71,338.60 L288.97,338.79 L287.23,338.99 L285.49,339.20 L283.75,339.43 L282.01,339.67 L280.27,339.93 L278.53,340.21 L276.79,340.50 L275.05,340.79 L273.31,341.09 L271.57,341.40 L269.83,341.72 L268.08,342.04 L266.34,342.36 L264.60,342.67 L262.86,342.99 L261.12,343.31 L259.38,343.62 L257.64,343.94 L255.90,344.26 L254.16,344.57 L252.42,344.88 L250.68,345.19 L248.94,345.50 L247.20,345.83 L245.46,346.15 L243.71,346.47 L241.97,346.78 L240.23,347.07 L238.49,347.35 L236.75,347.64 L235.01,347.96 L233.27,348.27 L231.53,348.54 L229.79,348.72 L228.05,348.86 L226.31,348.98 L224.57,349.08 L222.83,349.18 L221.09,349.26 L219.34,349.32 L217.60,349.37 L215.86,349.41 L214.12,349.46 L212.38,349.55 L210.64,349.76 L208.90,350.04 L207.16,350.37 L205.42,350.69 L203.68,350.96 L201.94,351.22 L200.20,351.47 L198.46,351.65 L196.72,351.80 L194.97,351.92 L193.23,352.04 L191.49,352.14 L189.75,352.24 L188.01,352.33 L186.27,352.41 L184.53,352.49 L182.79,352.56 L181.05,352.63 L179.31,352.71 L177.57,352.78 L175.83,352.85 L174.09,352.92 L172.35,353.00 L170.61,353.09 L168.86,353.20 L167.12,353.32 L165.38,353.46 L163.64,353.64 L161.90,353.90 L160.16,354.24 L158.42,354.63 L156.68,355.06 L154.94,355.57 L153.20,356.13 L151.46,356.72 L149.72,357.33 L147.98,357.98 L146.24,358.67 L144.49,359.39 L142.75,360.15 L141.01,360.94 L139.27,361.73 L137.53,362.52 L135.79,363.32 L134.05,364.12 L132.31,364.94 L130.57,365.77 L128.83,366.61 L127.09,367.43 L125.35,368.26 L123.61,369.09 L121.87,369.92 L120.12,370.75 L118.38,371.58 L116.64,372.45 L114.90,373.41 L113.16,374.47 L111.42,375.59 L109.68,376.75 L107.94,377.94 L106.20,379.18 L104.46,380.46 L102.72,381.75 L100.98,383.06 L99.24,384.43 L97.50,385.88 L95.75,387.44 L94.01,389.11 L92.27,390.83 L90.53,392.57 L88.79,394.36 L87.05,396.22 L85.31,398.15 L83.57,400.00 L81.83,402.26 L80.09,405.96 L78.35,412.08 L76.61,419.12 L74.87,425.43 L73.13,430.93 L71.38,436.33 L69.64,441.61 L67.90,446.77 L66.16,451.77 L64.42,456.62 L62.68,461.28 L60.94,465.75 L59.20,470.00Z" fill="none" stroke="#ff0000" stroke-width="1"/>
<path d="M59.2,331.9H405.6" stroke="#ff0000" stroke-width="2" fill="none"/>
<path clip-path="url(#kbl)" d="M48.80,249.30L-105.60,403.70M58.30,249.30L-96.10,403.70M67.80,249.30L-86.60,403.70M77.30,249.30L-77.10,403.70M86.80,249.30L-67.60,403.70M96.30,249.30L-58.10,403.70M105.80,249.30L-48.60,403.70M115.30,249.30L-39.10,403.70M124.80,249.30L-29.60,403.70M134.30,249.30L-20.10,403.70M143.80,249.30L-10.60,403.70M153.30,249.30L-1.10,403.70M162.80,249.30L8.40,403.70M172.30,249.30L17.90,403.70M181.80,249.30L27.40,403.70M191.30,249.30L36.90,403.70M200.80,249.30L46.40,403.70M210.30,249.30L55.90,403.70M219.80,249.30L65.40,403.70M229.30,249.30L74.90,403.70M238.80,249.30L84.40,403.70M248.30,249.30L93.90,403.70M257.80,249.30L103.40,403.70M267.30,249.30L112.90,403.70M276.80,249.30L122.40,403.70M286.30,249.30L131.90,403.70M295.80,249.30L141.40,403.70M305.30,249.30L150.90,403.70M314.80,249.30L160.40,403.70M324.30,249.30L169.90,403.70M333.80,249.30L179.40,403.70M343.30,249.30L188.90,403.70M352.80,249.30L198.40,403.70M362.30,249.30L207.90,403.70M371.80,249.30L217.40,403.70M381.30,249.30L226.90,403.70M390.80,249.30L236.40,403.70M400.30,249.30L245.90,403.70M409.80,249.30L255.40,403.70M419.30,249.30L264.90,403.70M428.80,249.30L274.40,403.70M438.30,249.30L283.90,403.70M447.80,249.30L293.40,403.70M457.30,249.30L302.90,403.70M466.80,249.30L312.40,403.70M476.30,249.30L321.90,403.70M485.80,249.30L331.40,403.70M495.30,249.30L340.90,403.70M504.80,249.30L350.40,403.70M514.30,249.30L359.90,403.70M523.80,249.30L369.40,403.70M533.30,249.30L378.90,403.70M542.80,249.30L388.40,403.70M552.30,249.30L397.90,403.70M561.80,249.30L407.40,403.70M571.30,249.30L416.90,403.70" stroke="#7070ff" stroke-width="1.25" fill="none"/>
<path d="M120.00,170.00 L120.72,172.27 L121.43,174.52 L122.15,176.75 L122.86,178.95 L123.58,181.13 L124.29,183.29 L125.01,185.43 L125.73,187.54 L126.44,189.63 L127.16,191.70 L127.87,193.74 L128.59,195.77 L129.31,197.77 L130.02,199.75 L130.74,201.70 L131.45,203.63 L132.17,205.54 L132.88,207.43 L133.60,209.30 L134.32,211.14 L135.03,212.97 L135.75,214.76 L136.46,216.54 L137.18,218.30 L137.89,220.03 L138.61,221.74 L139.33,223.43 L140.04,225.10 L140.76,226.75 L141.47,228.40 L142.19,230.04 L142.91,231.67 L143.62,233.28 L144.34,234.87 L145.05,236.44 L145.77,237.97 L146.48,239.48 L147.20,240.95 L147.92,242.38 L148.63,243.76 L149.35,245.10 L150.06,246.39 L150.78,247.63 L151.49,248.80 L152.21,249.92 L152.93,250.95 L153.64,251.90 L154.36,252.79 L155.07,253.66 L155.79,254.51 L156.51,255.38 L157.22,256.28 L157.94,257.18 L158.65,258.08 L159.37,258.97 L160.08,259.84 L160.80,260.67 L161.52,261.47 L162.23,262.25 L162.95,263.00 L163.66,263.73 L164.38,264.46 L165.09,265.19 L165.81,265.92 L166.53,266.65 L167.24,267.38 L167.96,268.06 L168.67,268.68 L169.39,269.27 L170.11,269.90 L170.82,270.59 L171.54,271.32 L172.25,272.06 L172.97,272.80 L173.68,273.50 L174.40,274.16 L175.12,274.80 L175.83,275.43 L176.55,276.04 L177.26,276.64 L177.98,277.23 L178.69,277.82 L179.41,278.39 L180.13,278.96 L180.84,279.52 L181.56,280.08 L182.27,280.62 L182.99,281.16 L183.71,281.69 L184.42,282.21 L185.14,282.71 L185.85,283.20 L186.57,283.67 L187.28,284.12 L188.00,284.55 L188.72,284.99 L189.43,285.43 L190.15,285.90 L190.86,286.38 L191.58,286.87 L192.29,287.38 L193.01,287.89 L193.73,288.39 L194.44,288.90 L195.16,289.40 L195.87,289.88 L196.59,290.36 L197.31,290.83 L198.02,291.30 L198.74,291.76 L199.45,292.22 L200.17,292.67 L200.88,293.12 L201.60,293.57 L202.32,294.02 L203.03,294.48 L203.75,294.93 L204.46,295.38 L205.18,295.83 L205.89,296.27 L206.61,296.69 L207.33,297.10 L208.04,297.48 L208.76,297.85 L209.47,298.21 L210.19,298.55 L210.91,298.89 L211.62,299.22 L212.34,299.56 L213.05,299.88 L213.77,300.19 L214.48,300.50 L215.20,300.81 L215.92,301.12 L216.63,301.43 L217.35,301.75 L218.06,302.08 L218.78,302.42 L219.49,302.78 L220.21,303.14 L220.93,303.50 L221.64,303.87 L222.36,304.22 L223.07,304.57 L223.79,304.90 L224.51,305.21 L225.22,305.53 L225.94,305.85 L226.65,306.16 L227.37,306.45 L228.08,306.73 L228.80,307.00 L229.52,307.24 L230.23,307.46 L230.95,307.66 L231.66,307.84 L232.38,308.01 L233.09,308.18 L233.81,308.34 L234.53,308.51 L235.24,308.69 L235.96,308.89 L236.67,309.10 L237.39,309.32 L238.11,309.56 L238.82,309.80 L239.54,310.05 L240.25,310.30 L240.97,310.56 L241.68,310.83 L242.40,311.09 L243.12,311.36 L243.83,311.63 L244.55,311.89 L245.26,312.16 L245.98,312.42 L246.69,312.67 L247.41,312.92 L248.13,313.16 L248.84,313.40 L249.56,313.62 L250.27,313.83 L250.99,314.05 L251.71,314.26 L252.42,314.47 L253.14,314.68 L253.85,314.88 L254.57,315.08 L255.28,315.27 L256.00,315.46 L256.72,315.65 L257.43,315.83 L258.15,316.00 L258.86,316.17 L259.58,316.33 L260.29,316.49 L261.01,316.64 L261.73,316.78 L262.44,316.92 L263.16,317.06 L263.87,317.20 L264.59,317.33 L265.31,317.47 L266.02,317.60 L266.74,317.74 L267.45,317.87 L268.17,318.01 L268.88,318.16 L269.60,318.30 L270.32,318.44 L271.03,318.58 L271.75,318.73 L272.46,318.87 L273.18,319.01 L273.89,319.15 L274.61,319.30 L275.33,319.44 L276.04,319.58 L276.76,319.71 L277.47,319.85 L278.19,319.99 L278.91,320.13 L279.62,320.27 L280.34,320.41 L281.05,320.55 L281.77,320.69 L282.48,320.82 L283.20,320.96 L283.92,321.09 L284.63,321.22 L285.35,321.34 L286.06,321.46 L286.78,321.58 L287.49,321.69 L288.21,321.79 L288.93,321.90 L289.64,322.00 L290.36,322.10 L291.07,322.19 L291.79,322.29 L292.51,322.39 L293.22,322.49 L293.94,322.59 L294.65,322.69 L295.37,322.80 L296.08,322.91 L296.80,323.03 L297.52,323.15 L298.23,323.27 L298.95,323.39 L299.66,323.52 L300.38,323.64 L301.09,323.77 L301.81,323.90 L302.53,324.03 L303.24,324.16 L303.96,324.29 L304.67,324.42 L305.39,324.55 L306.11,324.69 L306.82,324.82 L307.54,324.96 L308.25,325.09 L308.97,325.23 L309.68,325.37 L310.40,325.51 L311.12,325.64 L311.83,325.78 L312.55,325.91 L313.26,326.04 L313.98,326.16 L314.69,326.28 L315.41,326.40 L316.13,326.52 L316.84,326.64 L317.56,326.76 L318.27,326.88 L318.99,326.99 L319.71,327.10 L320.42,327.21 L321.14,327.31 L321.85,327.41 L322.57,327.51 L323.28,327.60 L324.00,327.68 L324.72,327.77 L325.43,327.85 L326.15,327.93 L326.86,328.00 L327.58,328.07 L328.29,328.15 L329.01,328.22 L329.73,328.29 L330.44,328.35 L331.16,328.42 L331.87,328.49 L332.59,328.56 L333.31,328.63 L334.02,328.70 L334.74,328.77 L335.45,328.84 L336.17,328.91 L336.88,328.99 L337.60,329.06 L338.32,329.13 L339.03,329.20 L339.75,329.26 L340.46,329.33 L341.18,329.40 L341.89,329.46 L342.61,329.52 L343.33,329.58 L344.04,329.63 L344.76,329.68" fill="none" stroke="#7070ff" stroke-width="1.25"/>
<path d="M97.00,170.00 L97.77,172.74 L98.55,175.44 L99.32,178.10 L100.09,180.74 L100.87,183.34 L101.64,185.91 L102.41,188.44 L103.19,190.94 L103.96,193.41 L104.73,195.84 L105.51,198.24 L106.28,200.61 L107.05,202.94 L107.83,205.25 L108.60,207.51 L109.37,209.75 L110.15,211.95 L110.92,214.12 L111.70,216.25 L112.47,218.35 L113.24,220.42 L114.02,222.46 L114.79,224.46 L115.56,226.44 L116.34,228.41 L117.11,230.36 L117.88,232.30 L118.66,234.21 L119.43,236.09 L120.20,237.93 L120.98,239.72 L121.75,241.45 L122.52,243.13 L123.30,244.74 L124.07,246.27 L124.84,247.73 L125.62,249.09 L126.39,250.37 L127.16,251.56 L127.94,252.69 L128.71,253.76 L129.48,254.78 L130.26,255.76 L131.03,256.71 L131.80,257.63 L132.58,258.55 L133.35,259.47 L134.12,260.38 L134.90,261.26 L135.67,262.09 L136.45,262.91 L137.22,263.73 L137.99,264.55 L138.77,265.41 L139.54,266.31 L140.31,267.27 L141.09,268.31 L141.86,269.39 L142.63,270.46 L143.41,271.50 L144.18,272.47 L144.95,273.40 L145.73,274.31 L146.50,275.19 L147.27,276.05 L148.05,276.89 L148.82,277.70 L149.59,278.50 L150.37,279.28 L151.14,280.05 L151.91,280.81 L152.69,281.57 L153.46,282.31 L154.23,283.04 L155.01,283.77 L155.78,284.49 L156.55,285.22 L157.33,285.95 L158.10,286.68 L158.87,287.43 L159.65,288.18 L160.42,288.93 L161.19,289.66 L161.97,290.37 L162.74,291.06 L163.52,291.74 L164.29,292.41 L165.06,293.07 L165.84,293.71 L166.61,294.35 L167.38,294.98 L168.16,295.61 L168.93,296.23 L169.70,296.85 L170.48,297.47 L171.25,298.07 L172.02,298.65 L172.80,299.21 L173.57,299.75 L174.34,300.25 L175.12,300.73 L175.89,301.19 L176.66,301.63 L177.44,302.06 L178.21,302.49 L178.98,302.91 L179.76,303.33 L180.53,303.75 L181.30,304.16 L182.08,304.57 L182.85,304.97 L183.62,305.37 L184.40,305.76 L185.17,306.17 L185.94,306.57 L186.72,306.98 L187.49,307.41 L188.27,307.83 L189.04,308.27 L189.81,308.70 L190.59,309.13 L191.36,309.55 L192.13,309.97 L192.91,310.38 L193.68,310.77 L194.45,311.14 L195.23,311.50 L196.00,311.85 L196.77,312.19 L197.55,312.52 L198.32,312.85 L199.09,313.17 L199.87,313.48 L200.64,313.78 L201.41,314.07 L202.19,314.36 L202.96,314.64 L203.73,314.91 L204.51,315.17 L205.28,315.42 L206.05,315.66 L206.83,315.89 L207.60,316.11 L208.37,316.33 L209.15,316.55 L209.92,316.77 L210.69,317.00 L211.47,317.23 L212.24,317.48 L213.02,317.73 L213.79,318.00 L214.56,318.27 L215.34,318.54 L216.11,318.81 L216.88,319.07 L217.66,319.32 L218.43,319.56 L219.20,319.80 L219.98,320.04 L220.75,320.28 L221.52,320.52 L222.30,320.75 L223.07,320.98 L223.84,321.21 L224.62,321.44 L225.39,321.66 L226.16,321.88 L226.94,322.09 L227.71,322.30 L228.48,322.50 L229.26,322.69 L230.03,322.88 L230.80,323.06 L231.58,323.24 L232.35,323.41 L233.12,323.58 L233.90,323.75 L234.67,323.91 L235.44,324.07 L236.22,324.23 L236.99,324.39 L237.76,324.55 L238.54,324.70 L239.31,324.85 L240.09,324.99 L240.86,325.14 L241.63,325.28 L242.41,325.41 L243.18,325.55 L243.95,325.68 L244.73,325.80 L245.50,325.93 L246.27,326.05 L247.05,326.16 L247.82,326.27 L248.59,326.38 L249.37,326.48 L250.14,326.58 L250.91,326.67 L251.69,326.76 L252.46,326.84 L253.23,326.92 L254.01,327.00 L254.78,327.08 L255.55,327.15 L256.33,327.23 L257.10,327.30 L257.87,327.38 L258.65,327.46 L259.42,327.55 L260.19,327.63 L260.97,327.72 L261.74,327.81 L262.51,327.91 L263.29,328.00 L264.06,328.09 L264.84,328.18 L265.61,328.26 L266.38,328.34 L267.16,328.42 L267.93,328.49 L268.70,328.55 L269.48,328.61 L270.25,328.66 L271.02,328.72 L271.80,328.77 L272.57,328.82 L273.34,328.87 L274.12,328.92 L274.89,328.96 L275.66,329.01 L276.44,329.05 L277.21,329.10 L277.98,329.15 L278.76,329.19 L279.53,329.23 L280.30,329.27 L281.08,329.31 L281.85,329.35 L282.62,329.39 L283.40,329.43 L284.17,329.48 L284.94,329.52 L285.72,329.56 L286.49,329.61 L287.26,329.66 L288.04,329.72 L288.81,329.78 L289.58,329.84 L290.36,329.90 L291.13,329.96 L291.91,330.03 L292.68,330.09 L293.45,330.14 L294.23,330.20 L295.00,330.25 L295.77,330.29 L296.55,330.33 L297.32,330.36 L298.09,330.40 L298.87,330.43 L299.64,330.46 L300.41,330.49 L301.19,330.52 L301.96,330.55 L302.73,330.58 L303.51,330.60 L304.28,330.63 L305.05,330.65 L305.83,330.68 L306.60,330.70 L307.37,330.73 L308.15,330.75 L308.92,330.77 L309.69,330.79 L310.47,330.81 L311.24,330.83 L312.01,330.86 L312.79,330.88 L313.56,330.90 L314.33,330.92 L315.11,330.94 L315.88,330.96 L316.66,330.98 L317.43,331.00 L318.20,331.02 L318.98,331.03 L319.75,331.05 L320.52,331.07 L321.30,331.09 L322.07,331.11 L322.84,331.12 L323.62,331.14 L324.39,331.16 L325.16,331.17 L325.94,331.19 L326.71,331.20 L327.48,331.22 L328.26,331.23 L329.03,331.24 L329.80,331.26 L330.58,331.27 L331.35,331.28 L332.12,331.29 L332.90,331.30 L333.67,331.31 L334.44,331.32 L335.22,331.33 L335.99,331.34 L336.76,331.35 L337.54,331.36 L338.31,331.36 L339.08,331.37 L339.86,331.38 L340.63,331.39 L341.41,331.40 L342.18,331.41 L342.95,331.42 L343.73,331.43 L344.50,331.44" fill="none" stroke="#7070ff" stroke-width="1.25"/>
<path d="M105.00,170.00 L105.75,172.54 L106.51,175.05 L107.26,177.53 L108.01,179.98 L108.77,182.40 L109.52,184.79 L110.27,187.15 L111.03,189.48 L111.78,191.78 L112.53,194.05 L113.29,196.30 L114.04,198.51 L114.79,200.70 L115.55,202.85 L116.30,204.98 L117.05,207.07 L117.81,209.14 L118.56,211.18 L119.31,213.18 L120.07,215.16 L120.82,217.11 L121.57,219.03 L122.33,220.91 L123.08,222.77 L123.83,224.60 L124.59,226.41 L125.34,228.23 L126.09,230.04 L126.85,231.84 L127.60,233.62 L128.35,235.38 L129.11,237.10 L129.86,238.78 L130.62,240.42 L131.37,242.00 L132.12,243.51 L132.88,244.96 L133.63,246.32 L134.38,247.61 L135.14,248.80 L135.89,249.88 L136.64,250.85 L137.40,251.69 L138.15,252.47 L138.90,253.24 L139.66,254.05 L140.41,254.90 L141.16,255.75 L141.92,256.60 L142.67,257.46 L143.42,258.33 L144.18,259.22 L144.93,260.14 L145.68,261.09 L146.44,262.10 L147.19,263.24 L147.94,264.38 L148.70,265.38 L149.45,266.17 L150.20,266.84 L150.96,267.47 L151.71,268.09 L152.46,268.76 L153.22,269.52 L153.97,270.33 L154.72,271.15 L155.48,271.96 L156.23,272.73 L156.98,273.48 L157.74,274.21 L158.49,274.92 L159.24,275.62 L160.00,276.30 L160.75,276.94 L161.50,277.54 L162.26,278.14 L163.01,278.74 L163.76,279.39 L164.52,280.09 L165.27,280.85 L166.02,281.64 L166.78,282.44 L167.53,283.23 L168.28,283.98 L169.04,284.71 L169.79,285.43 L170.54,286.14 L171.30,286.82 L172.05,287.49 L172.80,288.15 L173.56,288.81 L174.31,289.45 L175.06,290.07 L175.82,290.66 L176.57,291.21 L177.32,291.73 L178.08,292.22 L178.83,292.68 L179.58,293.13 L180.34,293.56 L181.09,293.99 L181.85,294.41 L182.60,294.83 L183.35,295.23 L184.11,295.62 L184.86,296.00 L185.61,296.39 L186.37,296.80 L187.12,297.19 L187.87,297.59 L188.63,298.00 L189.38,298.43 L190.13,298.88 L190.89,299.37 L191.64,299.89 L192.39,300.43 L193.15,300.99 L193.90,301.55 L194.65,302.11 L195.41,302.65 L196.16,303.18 L196.91,303.72 L197.67,304.27 L198.42,304.81 L199.17,305.35 L199.93,305.86 L200.68,306.35 L201.43,306.80 L202.19,307.20 L202.94,307.58 L203.69,307.94 L204.45,308.28 L205.20,308.61 L205.95,308.91 L206.71,309.19 L207.46,309.46 L208.21,309.70 L208.97,309.92 L209.72,310.13 L210.47,310.34 L211.23,310.56 L211.98,310.79 L212.73,311.05 L213.49,311.31 L214.24,311.59 L214.99,311.87 L215.75,312.15 L216.50,312.42 L217.25,312.69 L218.01,312.93 L218.76,313.16 L219.51,313.38 L220.27,313.59 L221.02,313.80 L221.77,314.00 L222.53,314.22 L223.28,314.44 L224.03,314.68 L224.79,314.94 L225.54,315.23 L226.29,315.52 L227.05,315.82 L227.80,316.10 L228.55,316.37 L229.31,316.60 L230.06,316.79 L230.82,316.95 L231.57,317.10 L232.32,317.23 L233.08,317.36 L233.83,317.49 L234.58,317.62 L235.34,317.76 L236.09,317.92 L236.84,318.09 L237.60,318.28 L238.35,318.47 L239.10,318.68 L239.86,318.89 L240.61,319.10 L241.36,319.32 L242.12,319.55 L242.87,319.77 L243.62,320.00 L244.38,320.22 L245.13,320.44 L245.88,320.66 L246.64,320.87 L247.39,321.07 L248.14,321.27 L248.90,321.46 L249.65,321.63 L250.40,321.80 L251.16,321.97 L251.91,322.14 L252.66,322.30 L253.42,322.45 L254.17,322.61 L254.92,322.76 L255.68,322.90 L256.43,323.05 L257.18,323.18 L257.94,323.32 L258.69,323.45 L259.44,323.57 L260.20,323.69 L260.95,323.81 L261.70,323.91 L262.46,324.02 L263.21,324.12 L263.96,324.23 L264.72,324.33 L265.47,324.43 L266.22,324.53 L266.98,324.64 L267.73,324.75 L268.48,324.86 L269.24,324.97 L269.99,325.09 L270.74,325.21 L271.50,325.34 L272.25,325.46 L273.00,325.58 L273.76,325.70 L274.51,325.82 L275.26,325.93 L276.02,326.04 L276.77,326.14 L277.52,326.24 L278.28,326.33 L279.03,326.42 L279.78,326.51 L280.54,326.59 L281.29,326.68 L282.05,326.76 L282.80,326.84 L283.55,326.91 L284.31,326.99 L285.06,327.07 L285.81,327.15 L286.57,327.23 L287.32,327.31 L288.07,327.39 L288.83,327.46 L289.58,327.54 L290.33,327.62 L291.09,327.69 L291.84,327.77 L292.59,327.85 L293.35,327.92 L294.10,328.00 L294.85,328.08 L295.61,328.16 L296.36,328.24 L297.11,328.32 L297.87,328.41 L298.62,328.50 L299.37,328.59 L300.13,328.68 L300.88,328.77 L301.63,328.86 L302.39,328.94 L303.14,329.02 L303.89,329.10 L304.65,329.17 L305.40,329.23 L306.15,329.30 L306.91,329.36 L307.66,329.42 L308.41,329.48 L309.17,329.53 L309.92,329.59 L310.67,329.64 L311.43,329.69 L312.18,329.74 L312.93,329.79 L313.69,329.83 L314.44,329.87 L315.19,329.91 L315.95,329.95 L316.70,329.98 L317.45,330.02 L318.21,330.06 L318.96,330.09 L319.71,330.12 L320.47,330.16 L321.22,330.19 L321.97,330.22 L322.73,330.25 L323.48,330.28 L324.23,330.31 L324.99,330.34 L325.74,330.36 L326.49,330.39 L327.25,330.42 L328.00,330.44 L328.75,330.47 L329.51,330.49 L330.26,330.52 L331.02,330.54 L331.77,330.56 L332.52,330.59 L333.28,330.61 L334.03,330.63 L334.78,330.65 L335.54,330.67 L336.29,330.69 L337.04,330.72 L337.80,330.74 L338.55,330.76 L339.30,330.78 L340.06,330.80 L340.81,330.81 L341.56,330.83" fill="none" stroke="#7070ff" stroke-width="2.0"/>
<path d="M340.06,330.80 L340.81,330.81 L341.56,330.83 L342.32,330.85 L343.07,330.87 L343.82,330.89 L344.58,330.90 L345.33,330.92 L346.08,330.93 L346.84,330.95 L347.59,330.96 L348.34,330.97 L349.10,330.99 L349.85,331.00 L350.60,331.01 L351.36,331.02 L352.11,331.03 L352.86,331.04 L353.62,331.05 L354.37,331.06 L355.12,331.07 L355.88,331.07 L356.63,331.08 L357.38,331.09 L358.14,331.10 L358.89,331.11 L359.64,331.11 L360.40,331.12 L361.15,331.13 L361.90,331.13 L362.66,331.14 L363.41,331.15 L364.16,331.15 L364.92,331.16 L365.67,331.17 L366.42,331.17 L367.18,331.18 L367.93,331.18 L368.68,331.19 L369.44,331.20 L370.19,331.20 L370.94,331.21 L371.70,331.21 L372.45,331.22 L373.20,331.22 L373.96,331.23 L374.71,331.23 L375.46,331.24 L376.22,331.24 L376.97,331.25 L377.72,331.26 L378.48,331.26 L379.23,331.27 L379.98,331.27 L380.74,331.28 L381.49,331.28 L382.25,331.29 L383.00,331.29 L383.75,331.30 L384.51,331.30 L385.26,331.31 L386.01,331.31 L386.77,331.31 L387.52,331.32 L388.27,331.32 L389.03,331.33 L389.78,331.33 L390.53,331.34 L391.29,331.34 L392.04,331.34 L392.79,331.35 L393.55,331.35 L394.30,331.36 L395.05,331.36 L395.81,331.36 L396.56,331.37 L397.31,331.37 L398.07,331.37 L398.82,331.38 L399.57,331.38 L400.33,331.38 L401.08,331.39 L401.83,331.39 L402.59,331.39 L403.34,331.39 L404.09,331.40 L404.85,331.40 L405.60,331.40" fill="none" stroke="#7070ff" stroke-width="1.7"/>
</g>
<path clip-path="url(#klr)" d="M330.81,203.40L335.43,213.10M336.24,203.40L340.86,213.10M341.67,203.40L346.29,213.10M347.10,203.40L351.72,213.10M352.53,203.40L357.15,213.10M357.96,203.40L362.58,213.10M363.39,203.40L368.01,213.10M368.82,203.40L373.44,213.10M374.25,203.40L378.87,213.10M379.68,203.40L384.30,213.10M385.11,203.40L389.73,213.10M390.54,203.40L395.16,213.10M395.97,203.40L400.59,213.10" stroke="#ff0000" stroke-width="0.6" fill="none"/>
<rect x="346.2" y="203.4" width="42.2" height="9.7" fill="none" stroke="#ff0000" stroke-width="0.8"/>
<path clip-path="url(#klb)" d="M328.02,222.00L320.30,231.50M341.42,222.00L333.70,231.50M354.82,222.00L347.10,231.50M368.22,222.00L360.50,231.50M381.62,222.00L373.90,231.50M395.02,222.00L387.30,231.50M408.42,222.00L400.70,231.50M421.82,222.00L414.10,231.50" stroke="#7070ff" stroke-width="0.6" fill="none"/>
<rect x="346.2" y="222" width="42.3" height="9.5" fill="none" stroke="#7070ff" stroke-width="0.8"/>
<path d="M405.6,332.10h-7.5" stroke="#000" stroke-width="1.5" fill="none"/>
<path d="M405.6,32.10h-7.5" stroke="#000" stroke-opacity="0.45" stroke-width="1.5" fill="none"/>
<rect x="59.2" y="21.5" width="346.40000000000003" height="221.4" fill="none" stroke="#000" stroke-width="1.6"/>
<rect x="59.2" y="249.3" width="346.40000000000003" height="154.39999999999998" fill="none" stroke="#000" stroke-width="1.6"/>
<g opacity="0.999">
<text x="94.2" y="11.8" font-size="14.42" text-anchor="start" font-family="Liberation Sans, sans-serif" fill="#000" style="font-kerning:none" >NLL+NNLO v. HqT-rescaled POWHEG</text>
<text x="50.8" y="37.3" font-size="14.35" text-anchor="end" font-family="Liberation Sans, sans-serif" fill="#000" style="font-kerning:none" >1</text>
<text x="50.8" y="79.46" font-size="14.35" text-anchor="end" font-family="Liberation Sans, sans-serif" fill="#000" style="font-kerning:none" >0.8</text>
<text x="50.8" y="121.62" font-size="14.35" text-anchor="end" font-family="Liberation Sans, sans-serif" fill="#000" style="font-kerning:none" >0.6</text>
<text x="50.8" y="163.77999999999997" font-size="14.35" text-anchor="end" font-family="Liberation Sans, sans-serif" fill="#000" style="font-kerning:none" >0.4</text>
<text x="50.8" y="205.94" font-size="14.35" text-anchor="end" font-family="Liberation Sans, sans-serif" fill="#000" style="font-kerning:none" >0.2</text>
<text x="50.8" y="248.1" font-size="14.35" text-anchor="end" font-family="Liberation Sans, sans-serif" fill="#000" style="font-kerning:none" >0</text>
<text x="50.8" y="280.25" font-size="14.35" text-anchor="end" font-family="Liberation Sans, sans-serif" fill="#000" style="font-kerning:none" >1.2</text>
<text x="50.8" y="308.775" font-size="14.35" text-anchor="end" font-family="Liberation Sans, sans-serif" fill="#000" style="font-kerning:none" >1.1</text>
<text x="50.8" y="337.3" font-size="14.35" text-anchor="end" font-family="Liberation Sans, sans-serif" fill="#000" style="font-kerning:none" >1</text>
<text x="50.8" y="365.825" font-size="14.35" text-anchor="end" font-family="Liberation Sans, sans-serif" fill="#000" style="font-kerning:none" >0.9</text>
<text x="50.8" y="394.35" font-size="14.35" text-anchor="end" font-family="Liberation Sans, sans-serif" fill="#000" style="font-kerning:none" >0.8</text>
<text x="120.11054015577714" y="422.5" font-size="14.35" text-anchor="middle" font-family="Liberation Sans, sans-serif" fill="#000" style="font-kerning:none" >10</text>
<text x="315.51054015577716" y="422.5" font-size="14.35" text-anchor="middle" font-family="Liberation Sans, sans-serif" fill="#000" style="font-kerning:none" >100</text>
<text x="66.3" y="39.6" font-size="8.6" text-anchor="start" font-family="Liberation Sans, sans-serif" fill="#000" style="font-kerning:none" >Higgs production (m<tspan font-size="6.9" dy="2.5">H</tspan><tspan dy="-2.5"> = 125 GeV)</tspan></text>
<text x="66.3" y="51.7" font-size="8.6" text-anchor="start" font-family="Liberation Sans, sans-serif" fill="#000" style="font-kerning:none" >pp, 7 TeV</text>
<text x="66.0" y="62.0" font-size="8.6" text-anchor="start" font-family="Liberation Sans, sans-serif" fill="#000" style="font-kerning:none" >anti-k<tspan font-size="6.9" dy="2.5">t</tspan><tspan dy="-2.5">, R=0.5</tspan></text>
<text x="66.3" y="72.8" font-size="8.6" text-anchor="start" font-family="Liberation Sans, sans-serif" fill="#000" style="font-kerning:none" >Pythia 6.426, Perugia 2011 tune</text>
<text x="337.3" y="212.9" font-size="14.35" text-anchor="end" font-family="Liberation Sans, sans-serif" fill="#000" style="font-kerning:none" >NLL+NNLO</text>
<text x="337.4" y="231.6" font-size="14.42" text-anchor="end" font-family="Liberation Sans, sans-serif" fill="#000" style="font-kerning:none" >HqT-rescaled POWHEG + Pythia</text>
<text x="232" y="435.6" font-size="14.35" text-anchor="middle" font-family="Liberation Sans, sans-serif" fill="#000" style="font-kerning:none" >p<tspan font-size="11.56" dy="4">t,veto</tspan><tspan dy="-4"> [GeV]</tspan></text>
<g transform="translate(12.3,132.6) rotate(-90)">
<text x="0" y="0" font-size="14.35" text-anchor="middle" font-family="Liberation Sans, sans-serif" fill="#000" style="font-kerning:none" >ε(p<tspan font-size="11.56" dy="4">t,veto</tspan><tspan dy="-4">)</tspan></text>
</g>
<g transform="translate(12.3,326.5) rotate(-90)">
<text x="0" y="0" font-size="14.35" text-anchor="middle" font-family="Liberation Sans, sans-serif" fill="#000" style="font-kerning:none" >ε(p<tspan font-size="11.56" dy="4">t,veto</tspan><tspan dy="-4">) / ε</tspan><tspan font-size="11.56" dy="4">central</tspan><tspan dy="-4">(p</tspan><tspan font-size="11.56" dy="4">t,veto</tspan><tspan dy="-4">)</tspan></text>
</g>
</g>
</svg>
</body></html>
